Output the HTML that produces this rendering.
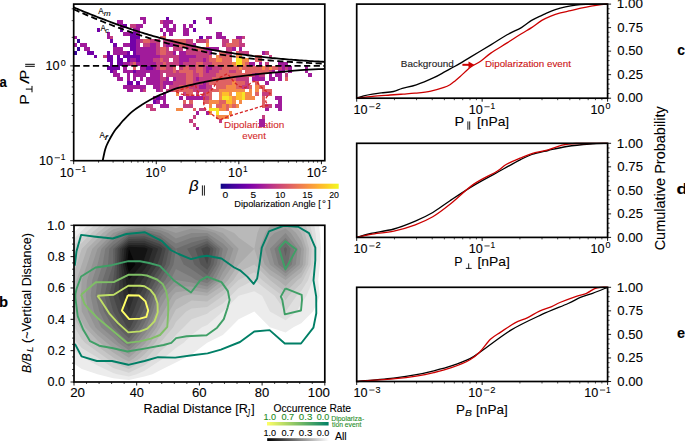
<!DOCTYPE html>
<html><head><meta charset="utf-8"><style>
html,body{margin:0;padding:0;background:#fff;overflow:hidden;}
svg{display:block;}
text{font-family:"Liberation Sans",sans-serif;}
</style></head><body>
<svg width="685" height="441" viewBox="0 0 685 441">
<defs><clipPath id="clipB"><rect x="74" y="225.3" width="250.8" height="156.7"/></clipPath><clipPath id="clipA"><rect x="73.7" y="4.1" width="251.1" height="156.6"/></clipPath></defs>
<rect width="685" height="441" fill="#fff"/>
<text x="224.09" y="127.6" font-size="9.6" fill="#d42a2a" stroke="#d42a2a" stroke-width="0.1" textLength="60.17" lengthAdjust="spacingAndGlyphs">Dipolarization</text>
<text x="242.3" y="139.3" font-size="9.6" fill="#d42a2a" stroke="#d42a2a" stroke-width="0.1" textLength="23.58" lengthAdjust="spacingAndGlyphs">event</text>
<g clip-path="url(#clipA)" shape-rendering="crispEdges">
<path d="M73.70 35.56h3.31v3.8h-3.31zM73.70 43.15h3.31v3.8h-3.31zM80.31 43.15h3.31v3.8h-3.31zM83.61 43.15h3.31v3.8h-3.31zM83.61 46.94h3.31v3.8h-3.31zM86.91 46.94h3.31v3.8h-3.31zM106.73 31.77h3.31v3.8h-3.31zM106.73 35.56h3.31v3.8h-3.31zM113.33 46.94h3.31v3.8h-3.31zM113.33 50.73h3.31v3.8h-3.31zM113.33 69.69h3.31v3.8h-3.31zM113.33 73.48h3.31v3.8h-3.31zM116.64 20.40h3.31v3.8h-3.31zM116.64 46.94h3.31v3.8h-3.31zM116.64 50.73h3.31v3.8h-3.31zM116.64 73.48h3.31v3.8h-3.31zM116.64 77.28h3.31v3.8h-3.31zM119.94 20.40h3.31v3.8h-3.31zM119.94 24.19h3.31v3.8h-3.31zM119.94 46.94h3.31v3.8h-3.31zM119.94 50.73h3.31v3.8h-3.31zM119.94 77.28h3.31v3.8h-3.31zM123.24 31.77h3.31v3.8h-3.31zM123.24 43.15h3.31v3.8h-3.31zM123.24 50.73h3.31v3.8h-3.31zM123.24 62.11h3.31v3.8h-3.31zM123.24 65.90h3.31v3.8h-3.31zM123.24 69.69h3.31v3.8h-3.31zM123.24 84.86h3.31v3.8h-3.31zM126.54 31.77h3.31v3.8h-3.31zM126.54 43.15h3.31v3.8h-3.31zM126.54 62.11h3.31v3.8h-3.31zM126.54 69.69h3.31v3.8h-3.31zM126.54 73.48h3.31v3.8h-3.31zM126.54 77.28h3.31v3.8h-3.31zM126.54 84.86h3.31v3.8h-3.31zM126.54 88.65h3.31v3.8h-3.31zM129.85 58.32h3.31v3.8h-3.31zM129.85 69.69h3.31v3.8h-3.31zM129.85 84.86h3.31v3.8h-3.31zM129.85 88.65h3.31v3.8h-3.31zM133.15 27.98h3.31v3.8h-3.31zM133.15 58.32h3.31v3.8h-3.31zM133.15 73.48h3.31v3.8h-3.31zM133.15 77.28h3.31v3.8h-3.31zM133.15 84.86h3.31v3.8h-3.31zM136.45 24.19h3.31v3.8h-3.31zM136.45 27.98h3.31v3.8h-3.31zM136.45 31.77h3.31v3.8h-3.31zM136.45 39.36h3.31v3.8h-3.31zM136.45 43.15h3.31v3.8h-3.31zM136.45 46.94h3.31v3.8h-3.31zM136.45 50.73h3.31v3.8h-3.31zM136.45 62.11h3.31v3.8h-3.31zM136.45 69.69h3.31v3.8h-3.31zM136.45 73.48h3.31v3.8h-3.31zM136.45 84.86h3.31v3.8h-3.31zM139.76 16.60h3.31v3.8h-3.31zM139.76 24.19h3.31v3.8h-3.31zM139.76 46.94h3.31v3.8h-3.31zM139.76 50.73h3.31v3.8h-3.31zM139.76 54.52h3.31v3.8h-3.31zM139.76 58.32h3.31v3.8h-3.31zM139.76 62.11h3.31v3.8h-3.31zM139.76 65.90h3.31v3.8h-3.31zM139.76 69.69h3.31v3.8h-3.31zM139.76 73.48h3.31v3.8h-3.31zM139.76 77.28h3.31v3.8h-3.31zM139.76 84.86h3.31v3.8h-3.31zM139.76 88.65h3.31v3.8h-3.31zM143.06 16.60h3.31v3.8h-3.31zM143.06 20.40h3.31v3.8h-3.31zM143.06 46.94h3.31v3.8h-3.31zM143.06 50.73h3.31v3.8h-3.31zM143.06 54.52h3.31v3.8h-3.31zM143.06 58.32h3.31v3.8h-3.31zM143.06 62.11h3.31v3.8h-3.31zM143.06 65.90h3.31v3.8h-3.31zM143.06 69.69h3.31v3.8h-3.31zM143.06 73.48h3.31v3.8h-3.31zM143.06 84.86h3.31v3.8h-3.31zM146.36 46.94h3.31v3.8h-3.31zM146.36 50.73h3.31v3.8h-3.31zM146.36 54.52h3.31v3.8h-3.31zM146.36 58.32h3.31v3.8h-3.31zM146.36 62.11h3.31v3.8h-3.31zM146.36 69.69h3.31v3.8h-3.31zM146.36 77.28h3.31v3.8h-3.31zM146.36 81.07h3.31v3.8h-3.31zM149.66 43.15h3.31v3.8h-3.31zM149.66 46.94h3.31v3.8h-3.31zM149.66 50.73h3.31v3.8h-3.31zM149.66 54.52h3.31v3.8h-3.31zM149.66 58.32h3.31v3.8h-3.31zM149.66 62.11h3.31v3.8h-3.31zM149.66 69.69h3.31v3.8h-3.31zM149.66 73.48h3.31v3.8h-3.31zM149.66 77.28h3.31v3.8h-3.31zM149.66 81.07h3.31v3.8h-3.31zM152.97 43.15h3.31v3.8h-3.31zM152.97 46.94h3.31v3.8h-3.31zM152.97 50.73h3.31v3.8h-3.31zM152.97 54.52h3.31v3.8h-3.31zM152.97 62.11h3.31v3.8h-3.31zM152.97 65.90h3.31v3.8h-3.31zM152.97 69.69h3.31v3.8h-3.31zM152.97 73.48h3.31v3.8h-3.31zM152.97 77.28h3.31v3.8h-3.31zM152.97 81.07h3.31v3.8h-3.31zM152.97 84.86h3.31v3.8h-3.31zM152.97 96.24h3.31v3.8h-3.31zM156.27 54.52h3.31v3.8h-3.31zM156.27 69.69h3.31v3.8h-3.31zM156.27 73.48h3.31v3.8h-3.31zM156.27 77.28h3.31v3.8h-3.31zM156.27 81.07h3.31v3.8h-3.31zM156.27 84.86h3.31v3.8h-3.31zM156.27 88.65h3.31v3.8h-3.31zM156.27 100.03h3.31v3.8h-3.31zM159.57 27.98h3.31v3.8h-3.31zM159.57 96.24h3.31v3.8h-3.31zM159.57 103.82h3.31v3.8h-3.31zM162.88 20.40h3.31v3.8h-3.31zM162.88 24.19h3.31v3.8h-3.31zM162.88 31.77h3.31v3.8h-3.31zM162.88 81.07h3.31v3.8h-3.31zM162.88 84.86h3.31v3.8h-3.31zM162.88 92.44h3.31v3.8h-3.31zM162.88 96.24h3.31v3.8h-3.31zM162.88 100.03h3.31v3.8h-3.31zM162.88 103.82h3.31v3.8h-3.31zM166.18 20.40h3.31v3.8h-3.31zM166.18 24.19h3.31v3.8h-3.31zM166.18 27.98h3.31v3.8h-3.31zM166.18 43.15h3.31v3.8h-3.31zM166.18 77.28h3.31v3.8h-3.31zM166.18 81.07h3.31v3.8h-3.31zM166.18 103.82h3.31v3.8h-3.31zM169.48 20.40h3.31v3.8h-3.31zM169.48 27.98h3.31v3.8h-3.31zM169.48 31.77h3.31v3.8h-3.31zM169.48 43.15h3.31v3.8h-3.31zM169.48 81.07h3.31v3.8h-3.31zM172.78 24.19h3.31v3.8h-3.31zM172.78 27.98h3.31v3.8h-3.31zM172.78 50.73h3.31v3.8h-3.31zM172.78 77.28h3.31v3.8h-3.31zM179.39 50.73h3.31v3.8h-3.31zM179.39 54.52h3.31v3.8h-3.31zM179.39 58.32h3.31v3.8h-3.31zM179.39 62.11h3.31v3.8h-3.31zM179.39 96.24h3.31v3.8h-3.31zM182.69 24.19h3.31v3.8h-3.31zM182.69 27.98h3.31v3.8h-3.31zM182.69 31.77h3.31v3.8h-3.31zM182.69 50.73h3.31v3.8h-3.31zM182.69 54.52h3.31v3.8h-3.31zM182.69 58.32h3.31v3.8h-3.31zM186.00 27.98h3.31v3.8h-3.31zM186.00 31.77h3.31v3.8h-3.31zM186.00 54.52h3.31v3.8h-3.31zM186.00 58.32h3.31v3.8h-3.31zM186.00 96.24h3.31v3.8h-3.31zM189.30 24.19h3.31v3.8h-3.31zM189.30 54.52h3.31v3.8h-3.31zM189.30 96.24h3.31v3.8h-3.31zM192.60 43.15h3.31v3.8h-3.31zM192.60 54.52h3.31v3.8h-3.31zM192.60 96.24h3.31v3.8h-3.31zM195.90 77.28h3.31v3.8h-3.31zM195.90 96.24h3.31v3.8h-3.31zM195.90 111.40h3.31v3.8h-3.31zM195.90 126.57h3.31v3.8h-3.31zM199.21 84.86h3.31v3.8h-3.31zM199.21 96.24h3.31v3.8h-3.31zM202.51 58.32h3.31v3.8h-3.31zM202.51 81.07h3.31v3.8h-3.31zM202.51 84.86h3.31v3.8h-3.31zM205.81 16.60h3.31v3.8h-3.31zM205.81 35.56h3.31v3.8h-3.31zM205.81 46.94h3.31v3.8h-3.31zM205.81 65.90h3.31v3.8h-3.31zM205.81 69.69h3.31v3.8h-3.31zM205.81 111.40h3.31v3.8h-3.31zM209.11 16.60h3.31v3.8h-3.31zM209.11 20.40h3.31v3.8h-3.31zM209.11 35.56h3.31v3.8h-3.31zM209.11 46.94h3.31v3.8h-3.31zM209.11 50.73h3.31v3.8h-3.31zM209.11 65.90h3.31v3.8h-3.31zM212.42 46.94h3.31v3.8h-3.31zM215.72 31.77h3.31v3.8h-3.31zM215.72 35.56h3.31v3.8h-3.31zM215.72 46.94h3.31v3.8h-3.31zM219.02 31.77h3.31v3.8h-3.31zM219.02 35.56h3.31v3.8h-3.31zM222.33 35.56h3.31v3.8h-3.31zM232.23 46.94h3.31v3.8h-3.31zM235.54 35.56h3.31v3.8h-3.31zM238.84 35.56h3.31v3.8h-3.31zM238.84 46.94h3.31v3.8h-3.31zM248.75 62.11h3.31v3.8h-3.31zM252.05 62.11h3.31v3.8h-3.31zM252.05 77.28h3.31v3.8h-3.31zM255.35 73.48h3.31v3.8h-3.31zM255.35 77.28h3.31v3.8h-3.31zM258.66 62.11h3.31v3.8h-3.31zM258.66 77.28h3.31v3.8h-3.31zM258.66 118.99h3.31v3.8h-3.31zM258.66 122.78h3.31v3.8h-3.31zM261.96 50.73h3.31v3.8h-3.31zM261.96 77.28h3.31v3.8h-3.31zM261.96 118.99h3.31v3.8h-3.31zM261.96 122.78h3.31v3.8h-3.31zM265.26 81.07h3.31v3.8h-3.31zM265.26 107.61h3.31v3.8h-3.31zM268.57 73.48h3.31v3.8h-3.31zM268.57 77.28h3.31v3.8h-3.31zM271.87 69.69h3.31v3.8h-3.31zM271.87 77.28h3.31v3.8h-3.31zM275.17 73.48h3.31v3.8h-3.31zM275.17 96.24h3.31v3.8h-3.31zM275.17 103.82h3.31v3.8h-3.31zM278.47 62.11h3.31v3.8h-3.31zM278.47 69.69h3.31v3.8h-3.31zM278.47 73.48h3.31v3.8h-3.31zM278.47 77.28h3.31v3.8h-3.31zM278.47 96.24h3.31v3.8h-3.31zM278.47 100.03h3.31v3.8h-3.31zM278.47 103.82h3.31v3.8h-3.31zM278.47 107.61h3.31v3.8h-3.31zM281.78 62.11h3.31v3.8h-3.31zM281.78 65.90h3.31v3.8h-3.31zM281.78 69.69h3.31v3.8h-3.31zM285.08 62.11h3.31v3.8h-3.31zM288.38 65.90h3.31v3.8h-3.31zM288.38 69.69h3.31v3.8h-3.31zM304.90 65.90h3.31v3.8h-3.31zM304.90 69.69h3.31v3.8h-3.31zM308.20 73.48h3.31v3.8h-3.31z" fill="#a11b9b"/>
<path d="M86.91 50.73h3.31v3.8h-3.31zM90.21 50.73h3.31v3.8h-3.31zM93.52 54.52h3.31v3.8h-3.31zM96.82 27.98h3.31v3.8h-3.31zM106.73 50.73h3.31v3.8h-3.31zM106.73 54.52h3.31v3.8h-3.31zM106.73 58.32h3.31v3.8h-3.31zM106.73 65.90h3.31v3.8h-3.31zM110.03 39.36h3.31v3.8h-3.31zM110.03 54.52h3.31v3.8h-3.31zM110.03 58.32h3.31v3.8h-3.31zM110.03 62.11h3.31v3.8h-3.31zM110.03 65.90h3.31v3.8h-3.31zM110.03 69.69h3.31v3.8h-3.31zM113.33 43.15h3.31v3.8h-3.31zM113.33 65.90h3.31v3.8h-3.31zM116.64 54.52h3.31v3.8h-3.31zM116.64 58.32h3.31v3.8h-3.31zM116.64 62.11h3.31v3.8h-3.31zM116.64 65.90h3.31v3.8h-3.31zM119.94 27.98h3.31v3.8h-3.31zM119.94 58.32h3.31v3.8h-3.31zM119.94 62.11h3.31v3.8h-3.31zM123.24 24.19h3.31v3.8h-3.31zM123.24 54.52h3.31v3.8h-3.31zM126.54 50.73h3.31v3.8h-3.31zM126.54 54.52h3.31v3.8h-3.31zM126.54 58.32h3.31v3.8h-3.31zM126.54 81.07h3.31v3.8h-3.31zM129.85 31.77h3.31v3.8h-3.31zM129.85 35.56h3.31v3.8h-3.31zM129.85 39.36h3.31v3.8h-3.31zM129.85 43.15h3.31v3.8h-3.31zM129.85 46.94h3.31v3.8h-3.31zM129.85 54.52h3.31v3.8h-3.31zM129.85 81.07h3.31v3.8h-3.31zM133.15 31.77h3.31v3.8h-3.31zM133.15 35.56h3.31v3.8h-3.31zM133.15 39.36h3.31v3.8h-3.31zM133.15 43.15h3.31v3.8h-3.31zM133.15 46.94h3.31v3.8h-3.31zM133.15 50.73h3.31v3.8h-3.31zM133.15 54.52h3.31v3.8h-3.31zM133.15 69.69h3.31v3.8h-3.31zM136.45 35.56h3.31v3.8h-3.31zM136.45 54.52h3.31v3.8h-3.31zM136.45 58.32h3.31v3.8h-3.31zM136.45 81.07h3.31v3.8h-3.31zM146.36 65.90h3.31v3.8h-3.31zM149.66 65.90h3.31v3.8h-3.31zM152.97 100.03h3.31v3.8h-3.31zM156.27 96.24h3.31v3.8h-3.31zM166.18 16.60h3.31v3.8h-3.31zM192.60 20.40h3.31v3.8h-3.31zM192.60 27.98h3.31v3.8h-3.31zM199.21 35.56h3.31v3.8h-3.31z" fill="#7201a8"/>
<path d="M103.43 54.52h3.31v3.8h-3.31zM110.03 35.56h3.31v3.8h-3.31zM129.85 24.19h3.31v3.8h-3.31zM129.85 62.11h3.31v3.8h-3.31zM133.15 24.19h3.31v3.8h-3.31zM139.76 39.36h3.31v3.8h-3.31zM143.06 43.15h3.31v3.8h-3.31zM143.06 88.65h3.31v3.8h-3.31zM146.36 43.15h3.31v3.8h-3.31zM146.36 103.82h3.31v3.8h-3.31zM149.66 39.36h3.31v3.8h-3.31zM149.66 103.82h3.31v3.8h-3.31zM149.66 107.61h3.31v3.8h-3.31zM152.97 39.36h3.31v3.8h-3.31zM152.97 58.32h3.31v3.8h-3.31zM152.97 107.61h3.31v3.8h-3.31zM156.27 39.36h3.31v3.8h-3.31zM156.27 43.15h3.31v3.8h-3.31zM156.27 46.94h3.31v3.8h-3.31zM156.27 50.73h3.31v3.8h-3.31zM156.27 58.32h3.31v3.8h-3.31zM156.27 62.11h3.31v3.8h-3.31zM156.27 65.90h3.31v3.8h-3.31zM159.57 20.40h3.31v3.8h-3.31zM159.57 54.52h3.31v3.8h-3.31zM159.57 62.11h3.31v3.8h-3.31zM159.57 69.69h3.31v3.8h-3.31zM159.57 73.48h3.31v3.8h-3.31zM159.57 77.28h3.31v3.8h-3.31zM159.57 81.07h3.31v3.8h-3.31zM159.57 84.86h3.31v3.8h-3.31zM159.57 88.65h3.31v3.8h-3.31zM162.88 39.36h3.31v3.8h-3.31zM162.88 43.15h3.31v3.8h-3.31zM162.88 54.52h3.31v3.8h-3.31zM162.88 58.32h3.31v3.8h-3.31zM162.88 69.69h3.31v3.8h-3.31zM162.88 77.28h3.31v3.8h-3.31zM166.18 39.36h3.31v3.8h-3.31zM166.18 46.94h3.31v3.8h-3.31zM166.18 50.73h3.31v3.8h-3.31zM166.18 54.52h3.31v3.8h-3.31zM166.18 58.32h3.31v3.8h-3.31zM166.18 62.11h3.31v3.8h-3.31zM166.18 65.90h3.31v3.8h-3.31zM166.18 69.69h3.31v3.8h-3.31zM166.18 73.48h3.31v3.8h-3.31zM166.18 88.65h3.31v3.8h-3.31zM169.48 39.36h3.31v3.8h-3.31zM169.48 50.73h3.31v3.8h-3.31zM169.48 54.52h3.31v3.8h-3.31zM169.48 62.11h3.31v3.8h-3.31zM169.48 65.90h3.31v3.8h-3.31zM169.48 69.69h3.31v3.8h-3.31zM169.48 73.48h3.31v3.8h-3.31zM169.48 84.86h3.31v3.8h-3.31zM169.48 88.65h3.31v3.8h-3.31zM172.78 43.15h3.31v3.8h-3.31zM172.78 46.94h3.31v3.8h-3.31zM172.78 54.52h3.31v3.8h-3.31zM172.78 58.32h3.31v3.8h-3.31zM172.78 62.11h3.31v3.8h-3.31zM172.78 73.48h3.31v3.8h-3.31zM172.78 81.07h3.31v3.8h-3.31zM172.78 84.86h3.31v3.8h-3.31zM176.09 43.15h3.31v3.8h-3.31zM176.09 46.94h3.31v3.8h-3.31zM176.09 54.52h3.31v3.8h-3.31zM176.09 58.32h3.31v3.8h-3.31zM176.09 62.11h3.31v3.8h-3.31zM176.09 69.69h3.31v3.8h-3.31zM176.09 73.48h3.31v3.8h-3.31zM176.09 77.28h3.31v3.8h-3.31zM176.09 81.07h3.31v3.8h-3.31zM176.09 84.86h3.31v3.8h-3.31zM179.39 46.94h3.31v3.8h-3.31zM179.39 65.90h3.31v3.8h-3.31zM179.39 73.48h3.31v3.8h-3.31zM179.39 77.28h3.31v3.8h-3.31zM179.39 81.07h3.31v3.8h-3.31zM182.69 62.11h3.31v3.8h-3.31zM182.69 73.48h3.31v3.8h-3.31zM182.69 77.28h3.31v3.8h-3.31zM182.69 81.07h3.31v3.8h-3.31zM182.69 92.44h3.31v3.8h-3.31zM182.69 103.82h3.31v3.8h-3.31zM186.00 39.36h3.31v3.8h-3.31zM186.00 43.15h3.31v3.8h-3.31zM186.00 46.94h3.31v3.8h-3.31zM186.00 50.73h3.31v3.8h-3.31zM186.00 62.11h3.31v3.8h-3.31zM186.00 103.82h3.31v3.8h-3.31zM189.30 39.36h3.31v3.8h-3.31zM189.30 43.15h3.31v3.8h-3.31zM189.30 46.94h3.31v3.8h-3.31zM189.30 50.73h3.31v3.8h-3.31zM189.30 58.32h3.31v3.8h-3.31zM189.30 62.11h3.31v3.8h-3.31zM189.30 65.90h3.31v3.8h-3.31zM189.30 84.86h3.31v3.8h-3.31zM189.30 103.82h3.31v3.8h-3.31zM189.30 118.99h3.31v3.8h-3.31zM192.60 46.94h3.31v3.8h-3.31zM192.60 50.73h3.31v3.8h-3.31zM192.60 58.32h3.31v3.8h-3.31zM192.60 62.11h3.31v3.8h-3.31zM192.60 65.90h3.31v3.8h-3.31zM192.60 69.69h3.31v3.8h-3.31zM192.60 73.48h3.31v3.8h-3.31zM192.60 77.28h3.31v3.8h-3.31zM192.60 81.07h3.31v3.8h-3.31zM192.60 84.86h3.31v3.8h-3.31zM192.60 88.65h3.31v3.8h-3.31zM192.60 115.20h3.31v3.8h-3.31zM192.60 122.78h3.31v3.8h-3.31zM195.90 39.36h3.31v3.8h-3.31zM195.90 50.73h3.31v3.8h-3.31zM195.90 54.52h3.31v3.8h-3.31zM195.90 58.32h3.31v3.8h-3.31zM195.90 73.48h3.31v3.8h-3.31zM195.90 81.07h3.31v3.8h-3.31zM195.90 84.86h3.31v3.8h-3.31zM195.90 88.65h3.31v3.8h-3.31zM195.90 92.44h3.31v3.8h-3.31zM199.21 39.36h3.31v3.8h-3.31zM199.21 50.73h3.31v3.8h-3.31zM199.21 54.52h3.31v3.8h-3.31zM199.21 58.32h3.31v3.8h-3.31zM199.21 77.28h3.31v3.8h-3.31zM199.21 81.07h3.31v3.8h-3.31zM199.21 88.65h3.31v3.8h-3.31zM199.21 107.61h3.31v3.8h-3.31zM202.51 39.36h3.31v3.8h-3.31zM202.51 46.94h3.31v3.8h-3.31zM202.51 50.73h3.31v3.8h-3.31zM202.51 54.52h3.31v3.8h-3.31zM202.51 62.11h3.31v3.8h-3.31zM202.51 65.90h3.31v3.8h-3.31zM202.51 69.69h3.31v3.8h-3.31zM202.51 73.48h3.31v3.8h-3.31zM202.51 77.28h3.31v3.8h-3.31zM202.51 88.65h3.31v3.8h-3.31zM202.51 92.44h3.31v3.8h-3.31zM202.51 96.24h3.31v3.8h-3.31zM202.51 107.61h3.31v3.8h-3.31zM205.81 50.73h3.31v3.8h-3.31zM205.81 54.52h3.31v3.8h-3.31zM205.81 58.32h3.31v3.8h-3.31zM205.81 62.11h3.31v3.8h-3.31zM205.81 73.48h3.31v3.8h-3.31zM205.81 77.28h3.31v3.8h-3.31zM205.81 81.07h3.31v3.8h-3.31zM205.81 84.86h3.31v3.8h-3.31zM205.81 88.65h3.31v3.8h-3.31zM205.81 96.24h3.31v3.8h-3.31zM209.11 62.11h3.31v3.8h-3.31zM209.11 69.69h3.31v3.8h-3.31zM209.11 73.48h3.31v3.8h-3.31zM209.11 77.28h3.31v3.8h-3.31zM209.11 84.86h3.31v3.8h-3.31zM212.42 65.90h3.31v3.8h-3.31zM212.42 69.69h3.31v3.8h-3.31zM212.42 73.48h3.31v3.8h-3.31zM215.72 65.90h3.31v3.8h-3.31zM215.72 69.69h3.31v3.8h-3.31zM219.02 65.90h3.31v3.8h-3.31zM219.02 118.99h3.31v3.8h-3.31zM222.33 39.36h3.31v3.8h-3.31zM222.33 43.15h3.31v3.8h-3.31zM225.63 39.36h3.31v3.8h-3.31zM225.63 46.94h3.31v3.8h-3.31zM225.63 50.73h3.31v3.8h-3.31zM228.93 46.94h3.31v3.8h-3.31zM228.93 50.73h3.31v3.8h-3.31zM228.93 69.69h3.31v3.8h-3.31zM232.23 69.69h3.31v3.8h-3.31zM235.54 77.28h3.31v3.8h-3.31zM238.84 39.36h3.31v3.8h-3.31zM238.84 43.15h3.31v3.8h-3.31zM238.84 50.73h3.31v3.8h-3.31zM238.84 77.28h3.31v3.8h-3.31zM242.14 35.56h3.31v3.8h-3.31zM242.14 43.15h3.31v3.8h-3.31zM242.14 50.73h3.31v3.8h-3.31zM242.14 77.28h3.31v3.8h-3.31zM242.14 84.86h3.31v3.8h-3.31zM245.45 50.73h3.31v3.8h-3.31zM245.45 77.28h3.31v3.8h-3.31zM245.45 81.07h3.31v3.8h-3.31zM245.45 84.86h3.31v3.8h-3.31zM252.05 73.48h3.31v3.8h-3.31zM258.66 73.48h3.31v3.8h-3.31zM261.96 73.48h3.31v3.8h-3.31zM261.96 92.44h3.31v3.8h-3.31zM261.96 115.20h3.31v3.8h-3.31zM265.26 50.73h3.31v3.8h-3.31zM265.26 62.11h3.31v3.8h-3.31zM265.26 92.44h3.31v3.8h-3.31zM265.26 103.82h3.31v3.8h-3.31zM268.57 54.52h3.31v3.8h-3.31zM268.57 69.69h3.31v3.8h-3.31zM268.57 103.82h3.31v3.8h-3.31zM278.47 65.90h3.31v3.8h-3.31zM285.08 65.90h3.31v3.8h-3.31zM285.08 73.48h3.31v3.8h-3.31z" fill="#c43e7f"/>
<path d="M73.70 50.73h3.31v3.8h-3.31zM77.00 39.36h3.31v3.8h-3.31zM77.00 46.94h3.31v3.8h-3.31z" fill="#38049a"/>
<path d="M133.15 62.11h3.31v3.8h-3.31zM133.15 65.90h3.31v3.8h-3.31zM143.06 39.36h3.31v3.8h-3.31zM146.36 39.36h3.31v3.8h-3.31zM159.57 35.56h3.31v3.8h-3.31zM159.57 46.94h3.31v3.8h-3.31zM159.57 50.73h3.31v3.8h-3.31zM159.57 58.32h3.31v3.8h-3.31zM159.57 65.90h3.31v3.8h-3.31zM162.88 35.56h3.31v3.8h-3.31zM162.88 46.94h3.31v3.8h-3.31zM162.88 50.73h3.31v3.8h-3.31zM162.88 62.11h3.31v3.8h-3.31zM162.88 65.90h3.31v3.8h-3.31zM172.78 39.36h3.31v3.8h-3.31zM172.78 65.90h3.31v3.8h-3.31zM172.78 69.69h3.31v3.8h-3.31zM172.78 88.65h3.31v3.8h-3.31zM176.09 39.36h3.31v3.8h-3.31zM176.09 88.65h3.31v3.8h-3.31zM179.39 39.36h3.31v3.8h-3.31zM179.39 43.15h3.31v3.8h-3.31zM179.39 69.69h3.31v3.8h-3.31zM179.39 84.86h3.31v3.8h-3.31zM179.39 88.65h3.31v3.8h-3.31zM182.69 39.36h3.31v3.8h-3.31zM182.69 43.15h3.31v3.8h-3.31zM182.69 65.90h3.31v3.8h-3.31zM182.69 69.69h3.31v3.8h-3.31zM182.69 84.86h3.31v3.8h-3.31zM182.69 88.65h3.31v3.8h-3.31zM182.69 100.03h3.31v3.8h-3.31zM186.00 65.90h3.31v3.8h-3.31zM186.00 69.69h3.31v3.8h-3.31zM186.00 73.48h3.31v3.8h-3.31zM186.00 77.28h3.31v3.8h-3.31zM186.00 81.07h3.31v3.8h-3.31zM186.00 84.86h3.31v3.8h-3.31zM186.00 88.65h3.31v3.8h-3.31zM186.00 92.44h3.31v3.8h-3.31zM189.30 69.69h3.31v3.8h-3.31zM189.30 73.48h3.31v3.8h-3.31zM189.30 77.28h3.31v3.8h-3.31zM189.30 81.07h3.31v3.8h-3.31zM189.30 88.65h3.31v3.8h-3.31zM189.30 92.44h3.31v3.8h-3.31zM189.30 100.03h3.31v3.8h-3.31zM192.60 107.61h3.31v3.8h-3.31zM195.90 46.94h3.31v3.8h-3.31zM195.90 62.11h3.31v3.8h-3.31zM195.90 65.90h3.31v3.8h-3.31zM195.90 69.69h3.31v3.8h-3.31zM199.21 46.94h3.31v3.8h-3.31zM199.21 62.11h3.31v3.8h-3.31zM199.21 65.90h3.31v3.8h-3.31zM199.21 69.69h3.31v3.8h-3.31zM199.21 73.48h3.31v3.8h-3.31zM202.51 100.03h3.31v3.8h-3.31zM205.81 39.36h3.31v3.8h-3.31zM205.81 92.44h3.31v3.8h-3.31zM205.81 100.03h3.31v3.8h-3.31zM209.11 54.52h3.31v3.8h-3.31zM209.11 58.32h3.31v3.8h-3.31zM209.11 81.07h3.31v3.8h-3.31zM209.11 88.65h3.31v3.8h-3.31zM209.11 92.44h3.31v3.8h-3.31zM209.11 96.24h3.31v3.8h-3.31zM212.42 58.32h3.31v3.8h-3.31zM212.42 62.11h3.31v3.8h-3.31zM212.42 77.28h3.31v3.8h-3.31zM212.42 81.07h3.31v3.8h-3.31zM212.42 88.65h3.31v3.8h-3.31zM215.72 62.11h3.31v3.8h-3.31zM215.72 73.48h3.31v3.8h-3.31zM215.72 77.28h3.31v3.8h-3.31zM215.72 81.07h3.31v3.8h-3.31zM215.72 84.86h3.31v3.8h-3.31zM215.72 88.65h3.31v3.8h-3.31zM215.72 103.82h3.31v3.8h-3.31zM219.02 50.73h3.31v3.8h-3.31zM219.02 54.52h3.31v3.8h-3.31zM219.02 62.11h3.31v3.8h-3.31zM219.02 69.69h3.31v3.8h-3.31zM219.02 73.48h3.31v3.8h-3.31zM219.02 77.28h3.31v3.8h-3.31zM219.02 81.07h3.31v3.8h-3.31zM219.02 84.86h3.31v3.8h-3.31zM219.02 100.03h3.31v3.8h-3.31zM219.02 103.82h3.31v3.8h-3.31zM222.33 50.73h3.31v3.8h-3.31zM222.33 54.52h3.31v3.8h-3.31zM222.33 58.32h3.31v3.8h-3.31zM222.33 62.11h3.31v3.8h-3.31zM222.33 65.90h3.31v3.8h-3.31zM222.33 69.69h3.31v3.8h-3.31zM222.33 73.48h3.31v3.8h-3.31zM222.33 77.28h3.31v3.8h-3.31zM222.33 81.07h3.31v3.8h-3.31zM222.33 84.86h3.31v3.8h-3.31zM222.33 100.03h3.31v3.8h-3.31zM225.63 43.15h3.31v3.8h-3.31zM225.63 54.52h3.31v3.8h-3.31zM225.63 58.32h3.31v3.8h-3.31zM225.63 62.11h3.31v3.8h-3.31zM225.63 65.90h3.31v3.8h-3.31zM225.63 69.69h3.31v3.8h-3.31zM225.63 73.48h3.31v3.8h-3.31zM225.63 77.28h3.31v3.8h-3.31zM225.63 81.07h3.31v3.8h-3.31zM225.63 103.82h3.31v3.8h-3.31zM225.63 107.61h3.31v3.8h-3.31zM228.93 43.15h3.31v3.8h-3.31zM228.93 54.52h3.31v3.8h-3.31zM228.93 58.32h3.31v3.8h-3.31zM228.93 62.11h3.31v3.8h-3.31zM228.93 65.90h3.31v3.8h-3.31zM228.93 73.48h3.31v3.8h-3.31zM228.93 77.28h3.31v3.8h-3.31zM228.93 81.07h3.31v3.8h-3.31zM232.23 39.36h3.31v3.8h-3.31zM232.23 43.15h3.31v3.8h-3.31zM232.23 65.90h3.31v3.8h-3.31zM232.23 73.48h3.31v3.8h-3.31zM232.23 77.28h3.31v3.8h-3.31zM232.23 103.82h3.31v3.8h-3.31zM235.54 39.36h3.31v3.8h-3.31zM235.54 43.15h3.31v3.8h-3.31zM235.54 50.73h3.31v3.8h-3.31zM235.54 65.90h3.31v3.8h-3.31zM235.54 69.69h3.31v3.8h-3.31zM235.54 73.48h3.31v3.8h-3.31zM235.54 81.07h3.31v3.8h-3.31zM235.54 84.86h3.31v3.8h-3.31zM238.84 69.69h3.31v3.8h-3.31zM238.84 73.48h3.31v3.8h-3.31zM238.84 81.07h3.31v3.8h-3.31zM238.84 84.86h3.31v3.8h-3.31zM242.14 65.90h3.31v3.8h-3.31zM242.14 73.48h3.31v3.8h-3.31zM242.14 81.07h3.31v3.8h-3.31zM245.45 62.11h3.31v3.8h-3.31zM245.45 65.90h3.31v3.8h-3.31zM245.45 69.69h3.31v3.8h-3.31zM245.45 73.48h3.31v3.8h-3.31zM248.75 65.90h3.31v3.8h-3.31zM248.75 69.69h3.31v3.8h-3.31zM248.75 73.48h3.31v3.8h-3.31zM248.75 84.86h3.31v3.8h-3.31zM252.05 65.90h3.31v3.8h-3.31zM252.05 69.69h3.31v3.8h-3.31zM255.35 54.52h3.31v3.8h-3.31zM255.35 58.32h3.31v3.8h-3.31zM255.35 65.90h3.31v3.8h-3.31zM255.35 69.69h3.31v3.8h-3.31zM255.35 81.07h3.31v3.8h-3.31zM255.35 92.44h3.31v3.8h-3.31zM258.66 54.52h3.31v3.8h-3.31zM258.66 58.32h3.31v3.8h-3.31zM258.66 65.90h3.31v3.8h-3.31zM258.66 69.69h3.31v3.8h-3.31zM258.66 84.86h3.31v3.8h-3.31zM261.96 69.69h3.31v3.8h-3.31zM261.96 84.86h3.31v3.8h-3.31zM261.96 88.65h3.31v3.8h-3.31zM261.96 96.24h3.31v3.8h-3.31zM261.96 100.03h3.31v3.8h-3.31zM261.96 103.82h3.31v3.8h-3.31zM265.26 65.90h3.31v3.8h-3.31zM265.26 69.69h3.31v3.8h-3.31zM265.26 88.65h3.31v3.8h-3.31zM268.57 88.65h3.31v3.8h-3.31zM268.57 92.44h3.31v3.8h-3.31zM271.87 65.90h3.31v3.8h-3.31zM275.17 65.90h3.31v3.8h-3.31zM285.08 77.28h3.31v3.8h-3.31z" fill="#df6263"/>
<path d="M176.09 92.44h3.31v3.8h-3.31zM176.09 107.61h3.31v3.8h-3.31zM179.39 107.61h3.31v3.8h-3.31zM205.81 43.15h3.31v3.8h-3.31zM209.11 100.03h3.31v3.8h-3.31zM209.11 103.82h3.31v3.8h-3.31zM209.11 111.40h3.31v3.8h-3.31zM212.42 100.03h3.31v3.8h-3.31zM215.72 54.52h3.31v3.8h-3.31zM215.72 58.32h3.31v3.8h-3.31zM215.72 100.03h3.31v3.8h-3.31zM215.72 115.20h3.31v3.8h-3.31zM219.02 58.32h3.31v3.8h-3.31zM219.02 88.65h3.31v3.8h-3.31zM219.02 92.44h3.31v3.8h-3.31zM219.02 96.24h3.31v3.8h-3.31zM219.02 107.61h3.31v3.8h-3.31zM219.02 115.20h3.31v3.8h-3.31zM222.33 88.65h3.31v3.8h-3.31zM222.33 103.82h3.31v3.8h-3.31zM222.33 107.61h3.31v3.8h-3.31zM222.33 115.20h3.31v3.8h-3.31zM225.63 84.86h3.31v3.8h-3.31zM225.63 88.65h3.31v3.8h-3.31zM225.63 115.20h3.31v3.8h-3.31zM228.93 84.86h3.31v3.8h-3.31zM228.93 88.65h3.31v3.8h-3.31zM228.93 92.44h3.31v3.8h-3.31zM228.93 103.82h3.31v3.8h-3.31zM228.93 111.40h3.31v3.8h-3.31zM232.23 62.11h3.31v3.8h-3.31zM232.23 81.07h3.31v3.8h-3.31zM232.23 84.86h3.31v3.8h-3.31zM232.23 88.65h3.31v3.8h-3.31zM232.23 96.24h3.31v3.8h-3.31zM232.23 100.03h3.31v3.8h-3.31zM235.54 54.52h3.31v3.8h-3.31zM235.54 88.65h3.31v3.8h-3.31zM235.54 103.82h3.31v3.8h-3.31zM238.84 54.52h3.31v3.8h-3.31zM238.84 65.90h3.31v3.8h-3.31zM238.84 88.65h3.31v3.8h-3.31zM238.84 100.03h3.31v3.8h-3.31zM242.14 58.32h3.31v3.8h-3.31zM242.14 62.11h3.31v3.8h-3.31zM242.14 88.65h3.31v3.8h-3.31zM245.45 58.32h3.31v3.8h-3.31zM245.45 92.44h3.31v3.8h-3.31zM245.45 96.24h3.31v3.8h-3.31zM248.75 88.65h3.31v3.8h-3.31zM248.75 92.44h3.31v3.8h-3.31zM248.75 96.24h3.31v3.8h-3.31zM252.05 96.24h3.31v3.8h-3.31zM255.35 84.86h3.31v3.8h-3.31zM255.35 88.65h3.31v3.8h-3.31zM261.96 65.90h3.31v3.8h-3.31zM268.57 65.90h3.31v3.8h-3.31z" fill="#f58b47"/>
<path d="M222.33 92.44h3.31v3.8h-3.31zM225.63 92.44h3.31v3.8h-3.31zM225.63 100.03h3.31v3.8h-3.31zM228.93 96.24h3.31v3.8h-3.31zM228.93 100.03h3.31v3.8h-3.31zM235.54 92.44h3.31v3.8h-3.31zM235.54 96.24h3.31v3.8h-3.31zM238.84 92.44h3.31v3.8h-3.31zM238.84 96.24h3.31v3.8h-3.31z" fill="#febe2a"/>
<path d="M209.11 107.61h3.31v3.8h-3.31zM212.42 107.61h3.31v3.8h-3.31zM215.72 107.61h3.31v3.8h-3.31zM215.72 111.40h3.31v3.8h-3.31zM222.33 96.24h3.31v3.8h-3.31zM225.63 96.24h3.31v3.8h-3.31zM235.54 58.32h3.31v3.8h-3.31zM235.54 62.11h3.31v3.8h-3.31zM238.84 58.32h3.31v3.8h-3.31zM238.84 62.11h3.31v3.8h-3.31zM242.14 92.44h3.31v3.8h-3.31zM242.14 96.24h3.31v3.8h-3.31z" fill="#f7e425"/>
</g>
<path d="M175.7 91.5 L182.7 89 L192.9 85.8 L195.4 85.2 L197.3 90.9 L200.5 94.1 L204.3 96 L203.7 103.6 L205 108.7 L209.4 112.5 L214.5 116.3 L220 120.1 L223.8 118.2 L232.7 115 L242.9 111.9 L251.8 109.3 L262 106.1 L267.7 105.5 L265.8 101.7 L266.4 97.2 L270.2 93.4 L264.5 90.2 L260.7 86.4 L256.9 82 L253.7 81.3 L250.5 83.3 L245.4 87.7 L239.1 86.4 L234 82 L227.6 73.7 L220 77.5 L216.4 82 L213.2 88.3 L208.1 92.8 L199.2 95.3 L190.3 95.3 L181.4 94.1 L175.7 91.5" fill="none" stroke="#d62728" stroke-width="1.4" stroke-linejoin="round" stroke-linecap="butt" stroke-dasharray="3.2 2"/>
<defs><linearGradient id="gplasma" x1="0" x2="1" y1="0" y2="0"><stop offset="0.000" stop-color="#0d0887"/><stop offset="0.050" stop-color="#2a0593"/><stop offset="0.100" stop-color="#41049d"/><stop offset="0.150" stop-color="#5601a4"/><stop offset="0.200" stop-color="#6a00a8"/><stop offset="0.250" stop-color="#7e03a8"/><stop offset="0.300" stop-color="#8f0da4"/><stop offset="0.350" stop-color="#a11b9b"/><stop offset="0.400" stop-color="#b12a90"/><stop offset="0.450" stop-color="#bf3984"/><stop offset="0.500" stop-color="#cc4778"/><stop offset="0.550" stop-color="#d6556d"/><stop offset="0.600" stop-color="#e16462"/><stop offset="0.650" stop-color="#ea7457"/><stop offset="0.700" stop-color="#f2844b"/><stop offset="0.750" stop-color="#f89540"/><stop offset="0.800" stop-color="#fca636"/><stop offset="0.850" stop-color="#feba2c"/><stop offset="0.900" stop-color="#fcce25"/><stop offset="0.950" stop-color="#f7e425"/><stop offset="1.000" stop-color="#f0f921"/></linearGradient></defs>
<rect x="220.7" y="183.7" width="118" height="5.1" fill="url(#gplasma)"/>
<text x="222.4" y="198.4" font-size="8.4" fill="#000" stroke="#000" stroke-width="0.1" textLength="5.7" lengthAdjust="spacingAndGlyphs">0</text>
<text x="250.49" y="198.4" font-size="8.4" fill="#000" stroke="#000" stroke-width="0.1" textLength="5.63" lengthAdjust="spacingAndGlyphs">5</text>
<text x="275.21" y="198.4" font-size="8.4" fill="#000" stroke="#000" stroke-width="0.1" textLength="10.15" lengthAdjust="spacingAndGlyphs">10</text>
<text x="302.3" y="198.4" font-size="8.4" fill="#000" stroke="#000" stroke-width="0.1" textLength="10.3" lengthAdjust="spacingAndGlyphs">15</text>
<text x="329.16" y="198.4" font-size="8.4" fill="#000" stroke="#000" stroke-width="0.1" textLength="9.79" lengthAdjust="spacingAndGlyphs">20</text>
<text x="234.35" y="206.6" font-size="8.4" fill="#000" stroke="#000" stroke-width="0.1" textLength="81.36" lengthAdjust="spacingAndGlyphs">Dipolarization Angle</text>
<text x="318.26" y="206.6" font-size="8.4" fill="#000" stroke="#000" stroke-width="0.1" textLength="2.51" lengthAdjust="spacingAndGlyphs">[</text>
<text x="322.1" y="206.6" font-size="8.4" fill="#000" stroke="#000" stroke-width="0.1" textLength="4" lengthAdjust="spacingAndGlyphs">°</text>
<text x="327.72" y="206.6" font-size="8.4" fill="#000" stroke="#000" stroke-width="0.1" textLength="2.93" lengthAdjust="spacingAndGlyphs">]</text>
<g clip-path="url(#clipB)">
<rect x="74.0" y="225.3" width="250.8" height="156.7" fill="#fff"/>
<path d="M113.2 378.3L128.9 380.1L144.5 376.4L152.4 374.2L160.2 370.2L175.9 362.4L183.7 358.5L191.6 354.6L207.2 342.8L207.2 342.8L222.9 335.0L230.8 327.2L238.6 319.3L254.3 311.5L254.3 311.5L254.3 311.5L269.9 327.2L269.9 327.2L285.6 332.4L293.4 327.2L301.3 323.2L313.0 311.5L317.0 303.6L319.6 295.8L318.3 280.1L319.9 264.5L320.9 248.8L319.9 233.1L319.2 225.3L317.0 225.3L301.3 225.3L285.6 225.3L269.9 225.3L254.3 225.3L238.6 225.3L222.9 225.3L207.2 225.3L191.6 225.3L175.9 225.3L160.2 225.3L144.5 225.3L128.9 225.3L113.2 225.3L97.5 225.3L81.8 225.3L81.1 225.3L74.0 232.4L74.0 233.1L74.0 248.8L74.0 264.5L74.0 280.1L74.0 295.8L74.0 311.5L74.0 327.2L74.0 342.8L74.0 358.5L74.0 363.7L81.8 368.9L97.5 374.2L97.5 374.2Z" fill="rgb(236,236,236)" fill-rule="evenodd"/>
<path d="M128.9 376.4L136.7 374.2L144.5 370.8L160.2 360.5L163.3 358.5L175.9 348.0L183.7 342.8L191.6 335.0L202.0 327.2L207.2 324.9L222.9 311.5L222.9 311.5L238.6 295.8L238.6 295.8L254.3 291.3L262.1 295.8L269.9 311.5L269.9 311.5L285.6 320.2L296.8 311.5L301.3 303.6L306.5 295.8L313.0 280.1L315.9 264.5L317.0 248.8L315.5 233.1L314.3 225.3L301.3 225.3L285.6 225.3L269.9 225.3L254.3 225.3L238.6 225.3L222.9 225.3L207.2 225.3L191.6 225.3L175.9 225.3L160.2 225.3L144.5 225.3L128.9 225.3L113.2 225.3L97.5 225.3L87.7 225.3L81.8 230.7L79.4 233.1L74.0 239.0L74.0 248.8L74.0 264.5L74.0 280.1L74.0 295.8L74.0 311.5L74.0 327.2L74.0 342.8L74.0 350.1L81.8 356.8L85.0 358.5L97.5 365.5L113.2 373.1L117.1 374.2Z" fill="rgb(223,223,223)" fill-rule="evenodd"/>
<path d="M113.2 367.9L128.9 372.7L144.5 365.2L153.9 358.5L160.2 351.5L170.0 342.8L175.9 335.0L183.7 327.2L191.6 319.3L207.2 313.7L209.8 311.5L222.9 303.6L230.8 295.8L238.6 288.0L254.3 280.1L254.3 280.1L254.3 280.1L269.9 292.2L274.6 295.8L285.6 311.5L296.6 295.8L301.3 291.1L308.1 280.1L313.3 264.5L314.3 248.8L312.0 233.1L310.0 225.3L301.3 225.3L285.6 225.3L269.9 225.3L254.3 225.3L238.6 225.3L222.9 225.3L207.2 225.3L191.6 225.3L175.9 225.3L160.2 225.3L144.5 225.3L128.9 225.3L113.2 225.3L97.5 225.3L94.2 225.3L85.5 233.1L81.8 236.8L74.0 245.5L74.0 248.8L74.0 264.5L74.0 280.1L74.0 295.8L74.0 311.5L74.0 327.2L74.0 338.0L77.1 342.8L81.8 348.0L97.5 357.4L99.1 358.5Z" fill="rgb(210,210,210)" fill-rule="evenodd"/>
<path d="M113.2 362.7L128.9 368.9L144.5 359.6L146.1 358.5L160.2 342.8L160.2 342.8L173.3 327.2L175.9 321.9L186.3 311.5L191.6 308.4L207.2 307.0L222.9 295.8L222.9 295.8L238.6 280.1L238.6 280.1L254.3 272.3L262.1 280.1L269.9 286.2L282.5 295.8L285.6 300.3L288.7 295.8L301.3 283.3L303.2 280.1L310.7 264.5L311.7 248.8L308.4 233.1L305.6 225.3L301.3 225.3L285.6 225.3L269.9 225.3L254.3 225.3L238.6 225.3L222.9 225.3L207.2 225.3L191.6 225.3L175.9 225.3L160.2 225.3L144.5 225.3L128.9 225.3L113.2 225.3L100.6 225.3L97.5 227.9L91.5 233.1L81.8 242.8L76.6 248.8L74.0 256.6L74.0 264.5L74.0 280.1L74.0 295.8L74.0 311.5L74.0 326.3L74.5 327.2L81.8 339.3L85.0 342.8L97.5 351.8L106.9 358.5Z" fill="rgb(198,198,198)" fill-rule="evenodd"/>
<path d="M128.9 365.2L139.7 358.5L144.5 354.3L155.3 342.8L160.2 335.0L166.7 327.2L174.8 311.5L175.9 309.5L191.6 300.5L207.2 301.4L215.1 295.8L222.9 290.6L233.4 280.1L238.6 272.3L254.3 264.5L254.3 264.5L254.3 264.5L269.9 280.1L269.9 280.1L285.6 292.2L297.7 280.1L301.3 277.2L308.1 264.5L309.1 248.8L304.8 233.1L301.3 225.3L301.3 225.3L285.6 225.3L269.9 225.3L254.3 225.3L241.7 225.3L238.6 226.4L236.0 225.3L222.9 225.3L207.2 225.3L191.6 225.3L175.9 225.3L160.2 225.3L144.5 225.3L128.9 225.3L113.2 225.3L106.9 225.3L97.5 233.1L97.5 233.1L81.8 248.8L81.8 248.8L76.6 264.5L74.0 272.3L74.0 280.1L74.0 295.8L74.0 311.5L74.0 317.6L79.7 327.2L81.8 330.6L92.8 342.8L97.5 346.2L113.2 357.5L114.8 358.5Z" fill="rgb(185,185,185)" fill-rule="evenodd"/>
<path d="M128.9 361.5L133.7 358.5L144.5 349.1L150.4 342.8L160.2 327.2L160.2 327.2L169.2 311.5L175.9 299.7L183.7 295.8L191.6 294.2L207.2 295.8L222.9 285.4L228.1 280.1L238.6 264.5L238.6 264.5L254.3 248.8L238.6 237.6L234.1 233.1L222.9 227.9L207.2 225.3L207.2 225.3L191.6 225.3L175.9 225.3L160.2 225.3L144.5 225.3L128.9 225.3L113.2 225.3L113.2 225.3L102.7 233.1L97.5 238.4L87.1 248.8L81.8 264.5L81.8 264.5L76.6 280.1L76.0 295.8L75.8 311.5L81.8 321.3L85.0 327.2L97.5 340.6L100.1 342.8L113.2 352.6L122.6 358.5ZM285.6 286.2L291.6 280.1L301.3 272.3L305.5 264.5L306.5 248.8L301.3 233.1L301.3 233.1L294.5 225.3L285.6 225.3L269.9 225.3L260.5 225.3L257.4 233.1L254.3 248.8L259.5 264.5L269.9 274.9L277.8 280.1Z" fill="rgb(172,172,172)" fill-rule="evenodd"/>
<path d="M113.2 347.7L128.9 357.7L144.5 343.9L145.5 342.8L156.6 327.2L160.2 317.4L163.6 311.5L172.5 295.8L175.9 292.2L191.6 290.3L207.2 292.7L222.9 280.1L222.9 280.1L233.4 264.5L238.6 248.8L222.9 233.1L222.9 233.1L207.2 227.9L195.2 225.3L191.6 225.3L185.7 225.3L175.9 227.9L164.7 225.3L160.2 225.3L144.5 225.3L128.9 225.3L128.9 225.3L113.2 229.2L108.0 233.1L97.5 243.6L92.3 248.8L87.1 264.5L81.8 280.1L81.8 280.1L80.9 295.8L81.8 311.5L81.8 311.5L90.2 327.2L97.5 335.0L106.7 342.8ZM269.9 269.7L285.6 280.1L301.3 267.4L302.9 264.5L303.9 248.8L301.3 241.0L296.1 233.1L287.7 225.3L285.6 225.3L273.9 225.3L269.9 226.4L265.2 233.1L259.5 248.8L264.7 264.5Z" fill="rgb(159,159,159)" fill-rule="evenodd"/>
<path d="M128.9 354.0L141.2 342.8L144.5 338.9L153.1 327.2L159.0 311.5L160.2 307.6L166.9 295.8L175.9 286.2L191.6 286.4L207.2 289.5L219.0 280.1L222.9 272.3L228.1 264.5L233.4 248.8L222.9 238.4L215.1 233.1L207.2 230.5L191.6 228.5L175.9 233.1L175.9 233.1L175.9 233.1L160.2 227.5L146.3 225.3L144.5 225.3L143.1 225.3L128.9 227.3L113.2 233.1L113.2 233.1L97.5 248.8L97.5 248.8L92.3 264.5L87.1 280.1L85.8 295.8L87.9 311.5L95.4 327.2L97.5 329.4L113.2 342.8L113.2 342.8ZM285.6 276.7L299.7 264.5L301.3 248.8L290.8 233.1L285.6 228.5L274.4 233.1L269.9 237.6L264.7 248.8L269.9 264.5L269.9 264.5Z" fill="rgb(147,147,147)" fill-rule="evenodd"/>
<path d="M128.9 350.3L137.1 342.8L144.5 334.0L149.5 327.2L155.8 311.5L160.2 297.8L161.3 295.8L175.9 280.1L175.9 280.1L175.9 280.1L191.6 282.5L207.2 286.4L215.1 280.1L222.9 264.5L222.9 264.5L228.1 248.8L222.9 243.6L207.2 233.1L191.6 233.1L175.9 238.4L168.1 233.1L160.2 230.3L144.5 227.3L128.9 229.2L118.4 233.1L113.2 237.1L101.4 248.8L97.5 264.5L97.5 264.5L92.3 280.1L90.7 295.8L93.9 311.5L97.5 319.3L101.1 327.2L113.2 337.6L118.4 342.8ZM285.6 273.3L295.8 264.5L297.7 248.8L285.6 233.1L269.9 248.8L274.3 264.5Z" fill="rgb(134,134,134)" fill-rule="evenodd"/>
<path d="M128.9 346.6L133.0 342.8L144.5 329.1L146.0 327.2L152.7 311.5L157.6 295.8L160.2 291.3L170.7 280.1L175.9 269.0L191.6 277.0L196.0 280.1L207.2 283.3L211.2 280.1L219.8 264.5L222.9 248.8L207.2 235.7L191.6 237.7L175.9 243.6L160.2 233.1L160.2 233.1L144.5 229.6L128.9 231.2L123.6 233.1L113.2 241.0L105.3 248.8L102.7 264.5L97.5 280.1L97.5 280.1L95.6 295.8L97.5 303.6L99.4 311.5L107.2 327.2L113.2 332.4L123.6 342.8ZM285.6 269.9L291.9 264.5L294.2 248.8L285.6 237.7L274.5 248.8L278.6 264.5Z" fill="rgb(121,121,121)" fill-rule="evenodd"/>
<path d="M128.9 342.8L142.2 327.2L144.5 322.9L149.6 311.5L154.3 295.8L160.2 285.7L165.4 280.1L173.5 264.5L175.9 248.8L160.2 235.9L150.4 233.1L144.5 231.8L128.9 233.1L128.9 233.1L113.2 244.9L109.3 248.8L108.0 264.5L102.7 280.1L100.1 295.8L104.0 311.5L113.2 327.2L113.2 327.2ZM191.6 269.2L207.2 280.1L216.6 264.5L219.8 248.8L207.2 238.4L191.6 242.4L175.9 248.8L183.7 264.5ZM285.6 266.5L288.0 264.5L290.6 248.8L285.6 242.4L279.2 248.8L283.0 264.5Z" fill="rgb(108,108,108)" fill-rule="evenodd"/>
<path d="M128.9 338.2L138.3 327.2L144.5 315.8L146.4 311.5L151.1 295.8L160.2 280.1L160.2 280.1L169.6 264.5L172.5 248.8L160.2 238.7L144.5 234.0L128.9 235.1L113.2 248.8L113.2 264.5L113.2 264.5L108.0 280.1L104.5 295.8L108.6 311.5L113.2 319.3L117.8 327.2ZM207.2 274.9L213.5 264.5L216.6 248.8L207.2 241.0L191.6 247.0L187.1 248.8L191.6 256.6L194.2 264.5ZM285.6 256.6L287.0 248.8L285.6 247.0L283.8 248.8Z" fill="rgb(96,96,96)" fill-rule="evenodd"/>
<path d="M128.9 333.6L134.3 327.2L142.7 311.5L144.5 307.0L147.8 295.8L155.9 280.1L160.2 273.6L165.7 264.5L169.1 248.8L160.2 241.5L144.5 236.3L128.9 237.1L115.4 248.8L115.1 264.5L113.2 280.1L113.2 280.1L108.8 295.8L113.2 311.5L113.2 311.5L122.4 327.2ZM207.2 269.7L210.4 264.5L213.5 248.8L207.2 243.6L195.2 248.8L200.7 264.5Z" fill="rgb(83,83,83)" fill-rule="evenodd"/>
<path d="M128.9 329.0L130.4 327.2L138.1 311.5L144.5 295.8L144.5 295.8L151.5 280.1L160.2 267.1L161.8 264.5L165.7 248.8L160.2 244.3L144.5 238.5L128.9 239.0L117.7 248.8L117.1 264.5L116.3 280.1L113.2 295.8L118.4 311.5L127.0 327.2ZM207.2 264.5L210.4 248.8L207.2 246.2L201.2 248.8Z" fill="rgb(70,70,70)" fill-rule="evenodd"/>
<path d="M128.9 321.3L133.5 311.5L139.3 295.8L144.5 286.0L147.2 280.1L157.3 264.5L160.2 256.6L162.3 248.8L160.2 247.1L144.5 240.7L128.9 241.0L119.9 248.8L119.1 264.5L119.5 280.1L118.4 295.8L123.6 311.5Z" fill="rgb(57,57,57)" fill-rule="evenodd"/>
<path d="M128.9 311.5L134.1 295.8L141.9 280.1L144.5 277.0L152.4 264.5L158.1 248.8L144.5 243.0L128.9 242.9L122.1 248.8L121.0 264.5L122.6 280.1L123.6 295.8Z" fill="rgb(45,45,45)" fill-rule="evenodd"/>
<path d="M128.9 295.8L135.4 280.1L144.5 269.2L147.5 264.5L152.9 248.8L144.5 245.2L128.9 244.9L124.4 248.8L123.0 264.5L125.7 280.1Z" fill="rgb(32,32,32)" fill-rule="evenodd"/>
<path d="M128.9 280.1L141.9 264.5L144.5 258.2L147.7 248.8L144.5 247.5L128.9 246.8L126.6 248.8L124.9 264.5Z" fill="rgb(19,19,19)" fill-rule="evenodd"/>
<path d="M128.9 272.3L135.4 264.5L128.9 248.8L126.9 264.5Z" fill="rgb(6,6,6)" fill-rule="evenodd"/>
<path d="M74.8 265.7 L76.5 251.2 L81.1 234.9 L95.6 236.7 L112.8 238.5 L126.4 234 L144.6 232.2 L162 241.2 L170.6 250 L178.6 254 L191 259.1 L200 256.8 L207 255.8 L221.5 258.5 L234.2 267.5 L240 270.3 L247.3 276.6 L253.6 283.9 L257.2 278.4 L260 260.3 L261.8 247.6 L269 231.3 L283.5 225.8 L298.1 226.7 L309 233.1 L315.3 247.6 L315.3 260.3 L313.5 280.3 L316.2 296.6 L316.3 313.3 L313.4 327.7 L301 343.5 L284.8 343.5 L269.6 330.1 L254.3 331.5 L240 342 L220.9 349.6 L207.6 353.4 L192.3 355.3 L175.2 357.6 L158 357.2 L144.5 361 L128.3 364.8 L112 361 L96.8 361 L81.5 356.3 L74.9 343.9" fill="none" stroke="rgb(0,127,102)" stroke-width="1.9" stroke-linejoin="round" stroke-linecap="butt" />
<path d="M75.4 294 L76.5 289 L81.1 276.5 L95.6 267.5 L111.7 265.2 L128.3 261.2 L140 261.3 L149.1 263 L159.8 265.9 L166.1 272.1 L174 280.6 L182 286.3 L191 292.5 L200 280.6 L207 276.6 L221.5 282.1 L227.9 291.1 L229.6 300 L227.6 307.6 L223.8 319.1 L217.1 327.7 L206.6 335.3 L186.6 336.2 L176.1 338.1 L171.3 342.9 L163.6 345 L144.5 348.6 L127.3 351.5 L112 348 L99.2 345.7 L90.1 341.2 L83.3 329.8 L77.7 316.2 L75.4 298 L75.4 294" fill="none" stroke="rgb(63,159,102)" stroke-width="1.9" stroke-linejoin="round" stroke-linecap="butt" />
<path d="M279 248.5 L285.4 241.2 L296.3 249.4 L285.4 269.4 L279 248.5" fill="none" stroke="rgb(63,159,102)" stroke-width="1.9" stroke-linejoin="round" stroke-linecap="butt" />
<path d="M285.4 288.4 L301.7 294.8 L302 300 L301 310.5 L284.8 314.3 L282.3 300 L280.8 296.6 L285.4 288.4" fill="none" stroke="rgb(63,159,102)" stroke-width="1.9" stroke-linejoin="round" stroke-linecap="butt" />
<path d="M81.1 294.7 L95.7 282.2 L113.7 282.1 L128.3 274.8 L140 274.6 L146.8 275.5 L157 279.5 L162.7 284 L166.1 290.8 L168.2 301.4 L168.2 312.3 L167.3 326.8 L160 335 L150.9 338.6 L140 341.4 L127.3 342.9 L110.1 328.6 L98.7 319.1 L89.2 309.5 L84.5 303.8 L81.1 294.7" fill="none" stroke="rgb(127,191,102)" stroke-width="1.9" stroke-linejoin="round" stroke-linecap="butt" />
<path d="M97.4 295.7 L113.7 294.8 L128.3 285.7 L140 285.7 L144.5 286.3 L150.2 289.7 L154.7 295.4 L157.5 303.2 L157.8 312.3 L154.5 321.4 L147.3 328.6 L140 331.4 L128.3 332.4 L117.8 322.9 L109.2 313.3 L100.6 300 L97.4 295.7" fill="none" stroke="rgb(191,223,102)" stroke-width="1.9" stroke-linejoin="round" stroke-linecap="butt" />
<path d="M127.9 295.2 L139 295.5 L145.5 301.4 L148.2 310.5 L146.4 316.8 L140 318.6 L129.2 319.1 L121.9 310.6 L127.9 295.2" fill="none" stroke="rgb(255,255,102)" stroke-width="1.9" stroke-linejoin="round" stroke-linecap="butt" />
</g>
<text x="273.52" y="411.6" font-size="10" fill="#000" stroke="#000" stroke-width="0.1" textLength="77.54" lengthAdjust="spacingAndGlyphs">Occurrence Rate</text>
<text x="263.51" y="420" font-size="8.5" fill="#1f8c1f" stroke="#1f8c1f" stroke-width="0.1" textLength="12.65" lengthAdjust="spacingAndGlyphs">1.0</text>
<text x="263.51" y="435.6" font-size="8.5" fill="#000" stroke="#000" stroke-width="0.1" textLength="12.65" lengthAdjust="spacingAndGlyphs">1.0</text>
<text x="281.44" y="420" font-size="8.5" fill="#1f8c1f" stroke="#1f8c1f" stroke-width="0.1" textLength="12.82" lengthAdjust="spacingAndGlyphs">0.7</text>
<text x="281.44" y="435.6" font-size="8.5" fill="#000" stroke="#000" stroke-width="0.1" textLength="12.82" lengthAdjust="spacingAndGlyphs">0.7</text>
<text x="298.82" y="420" font-size="8.5" fill="#1f8c1f" stroke="#1f8c1f" stroke-width="0.1" textLength="13.51" lengthAdjust="spacingAndGlyphs">0.3</text>
<text x="298.82" y="435.6" font-size="8.5" fill="#000" stroke="#000" stroke-width="0.1" textLength="13.51" lengthAdjust="spacingAndGlyphs">0.3</text>
<text x="316.85" y="420" font-size="8.5" fill="#1f8c1f" stroke="#1f8c1f" stroke-width="0.1" textLength="12.5" lengthAdjust="spacingAndGlyphs">0.0</text>
<text x="316.85" y="435.6" font-size="8.5" fill="#000" stroke="#000" stroke-width="0.1" textLength="12.5" lengthAdjust="spacingAndGlyphs">0.0</text>
<defs><linearGradient id="gsum" x1="0" x2="1" y1="0" y2="0"><stop offset="0" stop-color="rgb(255,255,102)"/><stop offset="0.5" stop-color="rgb(128,191,102)"/><stop offset="1" stop-color="rgb(0,128,102)"/></linearGradient><linearGradient id="ggray" x1="0" x2="1" y1="0" y2="0"><stop offset="0" stop-color="#000"/><stop offset="1" stop-color="#fff"/></linearGradient></defs>
<rect x="267" y="422" width="61.6" height="3.5" fill="url(#gsum)"/>
<rect x="267.2" y="438.2" width="61.8" height="3" fill="url(#ggray)"/>
<text x="331.23" y="421.3" font-size="6.7" fill="#1f8c1f" stroke="#1f8c1f" stroke-width="0.1" textLength="32.97" lengthAdjust="spacingAndGlyphs">Dipolariza-</text>
<text x="332" y="427.2" font-size="6.7" fill="#1f8c1f" stroke="#1f8c1f" stroke-width="0.1" textLength="29.35" lengthAdjust="spacingAndGlyphs">tion event</text>
<text x="334.98" y="439.7" font-size="10" fill="#000" stroke="#000" stroke-width="0.1" textLength="11.73" lengthAdjust="spacingAndGlyphs">All</text>
<path d="M73.7 7.34 L75.79 8.23 L77.89 9.11 L79.98 9.99 L82.07 10.85 L84.16 11.72 L86.26 12.57 L88.35 13.42 L90.44 14.26 L92.53 15.1 L94.62 15.93 L96.72 16.75 L98.81 17.56 L100.9 18.37 L103 19.17 L105.09 19.96 L107.18 20.75 L109.27 21.52 L111.37 22.29 L113.46 23.06 L115.55 23.81 L117.64 24.56 L119.74 25.3 L121.83 26.03 L123.92 26.75 L126.01 27.47 L128.11 28.18 L130.2 28.88 L132.29 29.57 L134.38 30.25 L136.48 30.93 L138.57 31.6 L140.66 32.26 L142.75 32.91 L144.85 33.55 L146.94 34.18 L149.03 34.81 L151.12 35.43 L153.22 36.04 L155.31 36.64 L157.4 37.23 L159.49 37.82 L161.59 38.39 L163.68 38.96 L165.77 39.52 L167.86 40.07 L169.96 40.61 L172.05 41.15 L174.14 41.67 L176.23 42.19 L178.33 42.7 L180.42 43.2 L182.51 43.69 L184.6 44.18 L186.7 44.66 L188.79 45.13 L190.88 45.59 L192.97 46.04 L195.06 46.48 L197.16 46.92 L199.25 47.35 L201.34 47.77 L203.44 48.19 L205.53 48.59 L207.62 48.99 L209.71 49.38 L211.81 49.77 L213.9 50.14 L215.99 50.51 L218.08 50.88 L220.18 51.23 L222.27 51.58 L224.36 51.92 L226.45 52.26 L228.55 52.58 L230.64 52.9 L232.73 53.22 L234.82 53.53 L236.92 53.83 L239.01 54.12 L241.1 54.41 L243.19 54.69 L245.29 54.97 L247.38 55.24 L249.47 55.51 L251.56 55.76 L253.66 56.02 L255.75 56.27 L257.84 56.51 L259.93 56.74 L262.03 56.98 L264.12 57.2 L266.21 57.42 L268.3 57.64 L270.4 57.85 L272.49 58.06 L274.58 58.26 L276.67 58.45 L278.77 58.64 L280.86 58.83 L282.95 59.01 L285.04 59.19 L287.13 59.37 L289.23 59.54 L291.32 59.7 L293.41 59.87 L295.5 60.02 L297.6 60.18 L299.69 60.33 L301.78 60.47 L303.88 60.62 L305.97 60.76 L308.06 60.89 L310.15 61.03 L312.25 61.16 L314.34 61.28 L316.43 61.4 L318.52 61.52 L320.62 61.64 L322.71 61.76 L324.8 61.87" fill="none" stroke="#000" stroke-width="1.8" stroke-linejoin="round" stroke-linecap="butt" />
<path d="M73.7 9.34 L75.79 10.27 L77.89 11.19 L79.98 12.1 L82.07 13.01 L84.16 13.91 L86.26 14.81 L88.35 15.7 L90.44 16.58 L92.53 17.45 L94.62 18.32 L96.72 19.18 L98.81 20.04 L100.9 20.88 L103 21.72 L105.09 22.55 L107.18 23.38 L109.27 24.2 L111.37 25 L113.46 25.8 L115.55 26.6 L117.64 27.38 L119.74 28.16 L121.83 28.92 L123.92 29.68 L126.01 30.43 L128.11 31.17 L130.2 31.91 L132.29 32.63 L134.38 33.34 L136.48 34.05 L138.57 34.75 L140.66 35.43 L142.75 36.11 L144.85 36.78 L146.94 37.44 L149.03 38.09 L151.12 38.73 L153.22 39.36 L155.31 39.98 L157.4 40.59 L159.49 41.19 L161.59 41.78 L163.68 42.36 L165.77 42.94 L167.86 43.5 L169.96 44.05 L172.05 44.6 L174.14 45.13 L176.23 45.65 L178.33 46.17 L180.42 46.67 L182.51 47.17 L184.6 47.66 L186.7 48.13 L188.79 48.6 L190.88 49.06 L192.97 49.51 L195.06 49.95 L197.16 50.38 L199.25 50.8 L201.34 51.21 L203.44 51.62 L205.53 52.01 L207.62 52.4 L209.71 52.78 L211.81 53.15 L213.9 53.51 L215.99 53.86 L218.08 54.2 L220.18 54.54 L222.27 54.87 L224.36 55.19 L226.45 55.5 L228.55 55.81 L230.64 56.1 L232.73 56.4 L234.82 56.68 L236.92 56.95 L239.01 57.22 L241.1 57.48 L243.19 57.74 L245.29 57.99 L247.38 58.23 L249.47 58.46 L251.56 58.69 L253.66 58.92 L255.75 59.13 L257.84 59.34 L259.93 59.55 L262.03 59.75 L264.12 59.94 L266.21 60.13 L268.3 60.31 L270.4 60.49 L272.49 60.67 L274.58 60.83 L276.67 61 L278.77 61.15 L280.86 61.31 L282.95 61.46 L285.04 61.6 L287.13 61.74 L289.23 61.88 L291.32 62.01 L293.41 62.14 L295.5 62.26 L297.6 62.38 L299.69 62.5 L301.78 62.61 L303.88 62.72 L305.97 62.83 L308.06 62.93 L310.15 63.03 L312.25 63.13 L314.34 63.22 L316.43 63.31 L318.52 63.4 L320.62 63.49 L322.71 63.57 L324.8 63.65" fill="none" stroke="#000" stroke-width="1.8" stroke-linejoin="round" stroke-linecap="butt" stroke-dasharray="6.2 3.4"/>
<line x1="73.7" y1="65.9" x2="324.8" y2="65.9" stroke="#000" stroke-width="1.8" stroke-dasharray="6.2 3.4"/>
<path d="M102.7 160.7 C102.95 159.5 103.75 155.48 104.2 153.5 C104.65 151.52 104.97 150.22 105.4 148.8 C105.83 147.38 106.03 146.7 106.8 145 C107.57 143.3 108.72 140.95 110 138.6 C111.28 136.25 112.87 133.23 114.5 130.9 C116.13 128.57 118.3 126.38 119.8 124.6 C121.3 122.82 121.43 122.37 123.5 120.2 C125.57 118.03 129.2 114.12 132.2 111.6 C135.2 109.08 138.4 107.12 141.5 105.1 C144.6 103.08 147.7 101.2 150.8 99.5 C153.9 97.8 157 96.28 160.1 94.9 C163.2 93.52 166.92 92.2 169.4 91.2 C171.88 90.2 171.57 89.9 175 88.9 C178.43 87.9 185.27 86.3 190 85.2 C194.73 84.1 199.42 83.13 203.4 82.3 C207.38 81.47 208.63 81.1 213.9 80.2 C219.17 79.3 226.95 78 235 76.9 C243.05 75.8 253.13 74.57 262.2 73.6 C271.27 72.63 278.97 71.9 289.4 71.1 C299.83 70.3 318.9 69.18 324.8 68.8" fill="none" stroke="#000" stroke-width="1.8" stroke-linejoin="round" />
<path d="M356.7 98 C357.88 97.63 361.17 96.45 363.8 95.8 C366.43 95.15 369.58 94.58 372.5 94.1 C375.42 93.62 377.8 93.33 381.3 92.9 C384.8 92.47 390 92.25 393.5 91.5 C397 90.75 398.5 89.5 402.3 88.4 C406.1 87.3 411.05 86.68 416.3 84.9 C421.55 83.12 428.93 79.95 433.8 77.7 C438.67 75.45 441.97 73.3 445.5 71.4 C449.03 69.5 450.85 68.68 455 66.3 C459.15 63.92 464.43 60.67 470.4 57.1 C476.37 53.53 484.68 48.63 490.8 44.9 C496.92 41.17 502 37.58 507.1 34.7 C512.2 31.82 517.32 29.98 521.4 27.6 C525.48 25.22 528.2 22.45 531.6 20.4 C535 18.35 539.38 16.48 541.8 15.3 C544.22 14.12 543.85 14.23 546.1 13.3 C548.35 12.37 552.07 10.77 555.3 9.7 C558.53 8.63 562.08 7.67 565.5 6.9 C568.92 6.13 572.38 5.52 575.8 5.1 C579.22 4.68 580.7 4.57 586 4.4 C591.3 4.23 604 4.15 607.6 4.1" fill="none" stroke="#000" stroke-width="1.3" stroke-linejoin="round" />
<path d="M356.7 98 C359.33 97.72 366.95 96.8 372.5 96.3 C378.05 95.8 384.88 95.37 390 95 C395.12 94.63 399.03 94.4 403.2 94.1 C407.37 93.8 410.38 93.7 415 93.2 C419.62 92.7 426.07 92.07 430.9 91.1 C435.73 90.13 440.82 88.47 444 87.4 C447.18 86.33 448.17 85.78 450 84.7 C451.83 83.62 453.3 82.27 455 80.9 C456.7 79.53 457.63 78.77 460.2 76.5 C462.77 74.23 467 69.85 470.4 67.3 C473.8 64.75 477.2 63.57 480.6 61.2 C484 58.83 486.38 56.15 490.8 53.1 C495.22 50.05 502 46.13 507.1 42.9 C512.2 39.67 517.32 36.25 521.4 33.7 C525.48 31.15 528.2 29.82 531.6 27.6 C535 25.38 538.7 22.28 541.8 20.4 C544.9 18.52 547.1 17.57 550.2 16.3 C553.3 15.03 556.98 13.73 560.4 12.8 C563.82 11.87 567.28 11.47 570.7 10.7 C574.12 9.93 577.5 8.97 580.9 8.2 C584.3 7.43 587.7 6.7 591.1 6.1 C594.5 5.5 598.55 4.93 601.3 4.6 C604.05 4.27 606.55 4.18 607.6 4.1" fill="none" stroke="#cc0000" stroke-width="1.3" stroke-linejoin="round" />
<path d="M356.7 237.4 C359.07 236.75 364.7 234.9 370.9 233.5 C377.1 232.1 386.5 231.07 393.9 229 C401.3 226.93 408.82 223.85 415.3 221.1 C421.78 218.35 427.02 215.9 432.8 212.5 C438.58 209.1 443.23 205.18 450 200.7 C456.77 196.22 465.62 190.27 473.4 185.6 C481.18 180.93 488.92 176.98 496.7 172.7 C504.48 168.42 514.25 162.93 520.1 159.9 C525.95 156.87 527.13 156.07 531.8 154.5 C536.47 152.93 542.27 151.83 548.1 150.5 C553.93 149.17 559.78 147.58 566.8 146.5 C573.82 145.42 583.4 144.53 590.2 144 C597 143.47 604.7 143.42 607.6 143.3" fill="none" stroke="#000" stroke-width="1.3" stroke-linejoin="round" />
<path d="M356.7 237.4 C359.07 236.88 364.7 235.35 370.9 234.3 C377.1 233.25 386.5 232.68 393.9 231.1 C401.3 229.52 408.82 227.18 415.3 224.8 C421.78 222.42 427.02 220.22 432.8 216.8 C438.58 213.38 443.23 209.7 450 204.3 C456.77 198.9 465.62 189.87 473.4 184.4 C481.18 178.93 491.25 174.82 496.7 171.5 C502.15 168.18 502.2 166.72 506.1 164.5 C510 162.28 515.82 160.02 520.1 158.2 C524.38 156.38 527.13 155 531.8 153.6 C536.47 152.2 543.05 151.22 548.1 149.8 C553.15 148.38 557.42 146.15 562.1 145.1 C566.78 144.05 568.62 143.8 576.2 143.5 C583.78 143.2 602.37 143.33 607.6 143.3" fill="none" stroke="#cc0000" stroke-width="1.3" stroke-linejoin="round" />
<path d="M356.7 381.5 C363.13 380.88 385.37 378.93 395.3 377.8 C405.23 376.67 409.88 375.87 416.3 374.7 C422.72 373.53 427.95 372.27 433.8 370.8 C439.65 369.33 445.37 367.92 451.4 365.9 C457.43 363.88 464.85 361.27 470 358.7 C475.15 356.13 475.48 355.27 482.3 350.5 C489.12 345.73 501.03 336.07 510.9 330.1 C520.77 324.13 531.97 319.13 541.5 314.7 C551.03 310.27 561.62 306.38 568.1 303.5 C574.58 300.62 576.32 299.1 580.4 297.4 C584.48 295.7 588.07 294.98 592.6 293.3 C597.13 291.62 605.1 288.3 607.6 287.3" fill="none" stroke="#000" stroke-width="1.3" stroke-linejoin="round" />
<path d="M356.7 381.5 C363.13 381.03 385.37 379.6 395.3 378.7 C405.23 377.8 409.88 377.12 416.3 376.1 C422.72 375.08 427.95 374 433.8 372.6 C439.65 371.2 445.37 369.85 451.4 367.7 C457.43 365.55 465.2 362.4 470 359.7 C474.8 357 476.8 354.9 480.2 351.5 C483.6 348.1 486.98 342.53 490.4 339.3 C493.82 336.07 496.6 334.83 500.7 332.1 C504.8 329.37 510.58 325.28 515 322.9 C519.42 320.52 523.12 319.77 527.2 317.8 C531.28 315.83 535.42 312.97 539.5 311.1 C543.58 309.23 548.3 308.03 551.7 306.6 C555.1 305.17 555.8 304.22 559.9 302.5 C564 300.78 571.87 297.83 576.3 296.3 C580.73 294.77 583.43 294.58 586.5 293.3 C589.57 292.02 592.32 289.6 594.7 288.6 C597.08 287.6 598.65 287.52 600.8 287.3 C602.95 287.08 606.47 287.3 607.6 287.3" fill="none" stroke="#cc0000" stroke-width="1.3" stroke-linejoin="round" />
<text x="400.79" y="67.3" font-size="9.6" fill="#222" stroke="#222" stroke-width="0.1" textLength="52.95" lengthAdjust="spacingAndGlyphs">Background</text>
<line x1="462.4" y1="64.8" x2="470.5" y2="64.8" stroke="#cc0000" stroke-width="2.0" />
<path d="M468.5 61.6 L474.2 64.8 L468.5 68.0 Z" fill="#cc0000"/>
<text x="485" y="67.3" font-size="9.6" fill="#cc1111" stroke="#cc1111" stroke-width="0.1" textLength="85.87" lengthAdjust="spacingAndGlyphs">Dipolarization event</text>
<line x1="73.7" y1="160.7" x2="73.7" y2="164.2" stroke="#000" stroke-width="0.9" />
<line x1="98.56" y1="160.7" x2="98.56" y2="162.7" stroke="#000" stroke-width="0.7" />
<line x1="113.1" y1="160.7" x2="113.1" y2="162.7" stroke="#000" stroke-width="0.7" />
<line x1="123.41" y1="160.7" x2="123.41" y2="162.7" stroke="#000" stroke-width="0.7" />
<line x1="131.41" y1="160.7" x2="131.41" y2="162.7" stroke="#000" stroke-width="0.7" />
<line x1="137.95" y1="160.7" x2="137.95" y2="162.7" stroke="#000" stroke-width="0.7" />
<line x1="143.48" y1="160.7" x2="143.48" y2="162.7" stroke="#000" stroke-width="0.7" />
<line x1="148.27" y1="160.7" x2="148.27" y2="162.7" stroke="#000" stroke-width="0.7" />
<line x1="152.49" y1="160.7" x2="152.49" y2="162.7" stroke="#000" stroke-width="0.7" />
<line x1="156.27" y1="160.7" x2="156.27" y2="164.2" stroke="#000" stroke-width="0.9" />
<line x1="181.13" y1="160.7" x2="181.13" y2="162.7" stroke="#000" stroke-width="0.7" />
<line x1="195.67" y1="160.7" x2="195.67" y2="162.7" stroke="#000" stroke-width="0.7" />
<line x1="205.98" y1="160.7" x2="205.98" y2="162.7" stroke="#000" stroke-width="0.7" />
<line x1="213.98" y1="160.7" x2="213.98" y2="162.7" stroke="#000" stroke-width="0.7" />
<line x1="220.52" y1="160.7" x2="220.52" y2="162.7" stroke="#000" stroke-width="0.7" />
<line x1="226.05" y1="160.7" x2="226.05" y2="162.7" stroke="#000" stroke-width="0.7" />
<line x1="230.84" y1="160.7" x2="230.84" y2="162.7" stroke="#000" stroke-width="0.7" />
<line x1="235.06" y1="160.7" x2="235.06" y2="162.7" stroke="#000" stroke-width="0.7" />
<line x1="238.84" y1="160.7" x2="238.84" y2="164.2" stroke="#000" stroke-width="0.9" />
<line x1="263.7" y1="160.7" x2="263.7" y2="162.7" stroke="#000" stroke-width="0.7" />
<line x1="278.24" y1="160.7" x2="278.24" y2="162.7" stroke="#000" stroke-width="0.7" />
<line x1="288.55" y1="160.7" x2="288.55" y2="162.7" stroke="#000" stroke-width="0.7" />
<line x1="296.55" y1="160.7" x2="296.55" y2="162.7" stroke="#000" stroke-width="0.7" />
<line x1="303.09" y1="160.7" x2="303.09" y2="162.7" stroke="#000" stroke-width="0.7" />
<line x1="308.62" y1="160.7" x2="308.62" y2="162.7" stroke="#000" stroke-width="0.7" />
<line x1="313.41" y1="160.7" x2="313.41" y2="162.7" stroke="#000" stroke-width="0.7" />
<line x1="317.63" y1="160.7" x2="317.63" y2="162.7" stroke="#000" stroke-width="0.7" />
<line x1="321.41" y1="160.7" x2="321.41" y2="164.2" stroke="#000" stroke-width="0.9" />
<line x1="73.7" y1="160.7" x2="70.2" y2="160.7" stroke="#000" stroke-width="0.9" />
<line x1="73.7" y1="132.16" x2="71.7" y2="132.16" stroke="#000" stroke-width="0.7" />
<line x1="73.7" y1="115.47" x2="71.7" y2="115.47" stroke="#000" stroke-width="0.7" />
<line x1="73.7" y1="103.62" x2="71.7" y2="103.62" stroke="#000" stroke-width="0.7" />
<line x1="73.7" y1="94.44" x2="71.7" y2="94.44" stroke="#000" stroke-width="0.7" />
<line x1="73.7" y1="86.93" x2="71.7" y2="86.93" stroke="#000" stroke-width="0.7" />
<line x1="73.7" y1="80.58" x2="71.7" y2="80.58" stroke="#000" stroke-width="0.7" />
<line x1="73.7" y1="75.09" x2="71.7" y2="75.09" stroke="#000" stroke-width="0.7" />
<line x1="73.7" y1="70.24" x2="71.7" y2="70.24" stroke="#000" stroke-width="0.7" />
<line x1="73.7" y1="65.9" x2="70.2" y2="65.9" stroke="#000" stroke-width="0.9" />
<line x1="73.7" y1="37.36" x2="71.7" y2="37.36" stroke="#000" stroke-width="0.7" />
<line x1="73.7" y1="20.67" x2="71.7" y2="20.67" stroke="#000" stroke-width="0.7" />
<line x1="73.7" y1="8.82" x2="71.7" y2="8.82" stroke="#000" stroke-width="0.7" />
<text x="38.94" y="164.9" font-size="11.9" fill="#000" stroke="#000" stroke-width="0.1" textLength="14.06" lengthAdjust="spacingAndGlyphs">10</text>
<line x1="54.7" y1="157.75" x2="59.9" y2="157.75" stroke="#000" stroke-width="0.75" />
<text x="60.67" y="160.2" font-size="8.2" fill="#000" stroke="#000" stroke-width="0.1" textLength="4.65" lengthAdjust="spacingAndGlyphs">1</text>
<text x="45.54" y="70.3" font-size="11.9" fill="#000" stroke="#000" stroke-width="0.1" textLength="14.06" lengthAdjust="spacingAndGlyphs">10</text>
<text x="60.65" y="65.6" font-size="8.2" fill="#000" stroke="#000" stroke-width="0.1" textLength="5" lengthAdjust="spacingAndGlyphs">0</text>
<text x="59.84" y="176.7" font-size="11.9" fill="#000" stroke="#000" stroke-width="0.1" textLength="14.06" lengthAdjust="spacingAndGlyphs">10</text>
<line x1="75.6" y1="169.55" x2="80.8" y2="169.55" stroke="#000" stroke-width="0.75" />
<text x="81.57" y="172" font-size="8.2" fill="#000" stroke="#000" stroke-width="0.1" textLength="4.65" lengthAdjust="spacingAndGlyphs">1</text>
<text x="145.54" y="176.7" font-size="11.9" fill="#000" stroke="#000" stroke-width="0.1" textLength="14.06" lengthAdjust="spacingAndGlyphs">10</text>
<text x="160.65" y="172" font-size="8.2" fill="#000" stroke="#000" stroke-width="0.1" textLength="5" lengthAdjust="spacingAndGlyphs">0</text>
<text x="228.14" y="176.7" font-size="11.9" fill="#000" stroke="#000" stroke-width="0.1" textLength="14.06" lengthAdjust="spacingAndGlyphs">10</text>
<text x="242.97" y="172" font-size="8.2" fill="#000" stroke="#000" stroke-width="0.1" textLength="4.65" lengthAdjust="spacingAndGlyphs">1</text>
<text x="306.84" y="176.7" font-size="11.9" fill="#000" stroke="#000" stroke-width="0.1" textLength="14.06" lengthAdjust="spacingAndGlyphs">10</text>
<text x="321.83" y="172" font-size="8.2" fill="#000" stroke="#000" stroke-width="0.1" textLength="5.24" lengthAdjust="spacingAndGlyphs">2</text>
<text x="-0.38" y="87" font-size="14.2" fill="#000" stroke="#000" stroke-width="0.1" font-weight="bold" textLength="7.3" lengthAdjust="spacingAndGlyphs">a</text>
<text transform="translate(29.4,104.69) rotate(-90)" x="0" y="0" font-size="13.2" fill="#000" stroke="#000" stroke-width="0.1" textLength="10.53" lengthAdjust="spacingAndGlyphs">P</text>
<line x1="32" y1="85.9" x2="32" y2="92.3" stroke="#000" stroke-width="1.0" />
<line x1="25.8" y1="89.1" x2="32" y2="89.1" stroke="#000" stroke-width="1.0" />
<text transform="translate(29.4,83.9) rotate(-90)" x="0" y="0" font-size="13.2" fill="#000" stroke="#000" stroke-width="0.1" textLength="6" lengthAdjust="spacingAndGlyphs">/</text>
<text transform="translate(29.4,79.6) rotate(-90)" x="0" y="0" font-size="13.2" fill="#000" stroke="#000" stroke-width="0.1" textLength="9.78" lengthAdjust="spacingAndGlyphs">P</text>
<line x1="25.2" y1="64.3" x2="34.8" y2="64.3" stroke="#000" stroke-width="1.0" />
<line x1="25.2" y1="66.3" x2="34.8" y2="66.3" stroke="#000" stroke-width="1.0" />
<text x="98.18" y="14.1" font-size="9.2" fill="#000" stroke="#000" stroke-width="0.1" textLength="5.43" lengthAdjust="spacingAndGlyphs">A</text>
<text x="103.86" y="15.9" font-size="6.9" fill="#000" stroke="#000" stroke-width="0.1" font-style="italic" textLength="6.92" lengthAdjust="spacingAndGlyphs">m</text>
<text x="100.38" y="31.2" font-size="9.2" fill="#000" stroke="#000" stroke-width="0.1" textLength="5.23" lengthAdjust="spacingAndGlyphs">A</text>
<text x="105.37" y="32.6" font-size="6.9" fill="#000" stroke="#000" stroke-width="0.1" font-style="italic" textLength="3.51" lengthAdjust="spacingAndGlyphs">c</text>
<text x="99.48" y="138.3" font-size="9.2" fill="#000" stroke="#000" stroke-width="0.1" textLength="5.33" lengthAdjust="spacingAndGlyphs">A</text>
<text x="104.41" y="139.9" font-size="6.9" fill="#000" stroke="#000" stroke-width="0.1" font-style="italic" textLength="3.2" lengthAdjust="spacingAndGlyphs">f</text>
<text x="189.29" y="190.5" font-size="14.5" fill="#000" stroke="#000" stroke-width="0.1" font-style="italic" textLength="9.3" lengthAdjust="spacingAndGlyphs">β</text>
<line x1="202.4" y1="185.4" x2="202.4" y2="195.6" stroke="#000" stroke-width="0.9" />
<line x1="204.4" y1="185.4" x2="204.4" y2="195.6" stroke="#000" stroke-width="0.9" />
<line x1="74" y1="382" x2="74" y2="385.5" stroke="#000" stroke-width="0.9" />
<line x1="86.54" y1="382" x2="86.54" y2="384" stroke="#000" stroke-width="0.7" />
<line x1="99.08" y1="382" x2="99.08" y2="384" stroke="#000" stroke-width="0.7" />
<line x1="111.62" y1="382" x2="111.62" y2="384" stroke="#000" stroke-width="0.7" />
<line x1="124.16" y1="382" x2="124.16" y2="384" stroke="#000" stroke-width="0.7" />
<line x1="136.7" y1="382" x2="136.7" y2="385.5" stroke="#000" stroke-width="0.9" />
<line x1="149.24" y1="382" x2="149.24" y2="384" stroke="#000" stroke-width="0.7" />
<line x1="161.78" y1="382" x2="161.78" y2="384" stroke="#000" stroke-width="0.7" />
<line x1="174.32" y1="382" x2="174.32" y2="384" stroke="#000" stroke-width="0.7" />
<line x1="186.86" y1="382" x2="186.86" y2="384" stroke="#000" stroke-width="0.7" />
<line x1="199.4" y1="382" x2="199.4" y2="385.5" stroke="#000" stroke-width="0.9" />
<line x1="211.94" y1="382" x2="211.94" y2="384" stroke="#000" stroke-width="0.7" />
<line x1="224.48" y1="382" x2="224.48" y2="384" stroke="#000" stroke-width="0.7" />
<line x1="237.02" y1="382" x2="237.02" y2="384" stroke="#000" stroke-width="0.7" />
<line x1="249.56" y1="382" x2="249.56" y2="384" stroke="#000" stroke-width="0.7" />
<line x1="262.1" y1="382" x2="262.1" y2="385.5" stroke="#000" stroke-width="0.9" />
<line x1="274.64" y1="382" x2="274.64" y2="384" stroke="#000" stroke-width="0.7" />
<line x1="287.18" y1="382" x2="287.18" y2="384" stroke="#000" stroke-width="0.7" />
<line x1="299.72" y1="382" x2="299.72" y2="384" stroke="#000" stroke-width="0.7" />
<line x1="312.26" y1="382" x2="312.26" y2="384" stroke="#000" stroke-width="0.7" />
<line x1="324.8" y1="382" x2="324.8" y2="385.5" stroke="#000" stroke-width="0.9" />
<line x1="74" y1="382" x2="70.5" y2="382" stroke="#000" stroke-width="0.9" />
<line x1="74" y1="375.73" x2="72" y2="375.73" stroke="#000" stroke-width="0.7" />
<line x1="74" y1="369.46" x2="72" y2="369.46" stroke="#000" stroke-width="0.7" />
<line x1="74" y1="363.2" x2="72" y2="363.2" stroke="#000" stroke-width="0.7" />
<line x1="74" y1="356.93" x2="72" y2="356.93" stroke="#000" stroke-width="0.7" />
<line x1="74" y1="350.66" x2="70.5" y2="350.66" stroke="#000" stroke-width="0.9" />
<line x1="74" y1="344.39" x2="72" y2="344.39" stroke="#000" stroke-width="0.7" />
<line x1="74" y1="338.12" x2="72" y2="338.12" stroke="#000" stroke-width="0.7" />
<line x1="74" y1="331.86" x2="72" y2="331.86" stroke="#000" stroke-width="0.7" />
<line x1="74" y1="325.59" x2="72" y2="325.59" stroke="#000" stroke-width="0.7" />
<line x1="74" y1="319.32" x2="70.5" y2="319.32" stroke="#000" stroke-width="0.9" />
<line x1="74" y1="313.05" x2="72" y2="313.05" stroke="#000" stroke-width="0.7" />
<line x1="74" y1="306.78" x2="72" y2="306.78" stroke="#000" stroke-width="0.7" />
<line x1="74" y1="300.52" x2="72" y2="300.52" stroke="#000" stroke-width="0.7" />
<line x1="74" y1="294.25" x2="72" y2="294.25" stroke="#000" stroke-width="0.7" />
<line x1="74" y1="287.98" x2="70.5" y2="287.98" stroke="#000" stroke-width="0.9" />
<line x1="74" y1="281.71" x2="72" y2="281.71" stroke="#000" stroke-width="0.7" />
<line x1="74" y1="275.44" x2="72" y2="275.44" stroke="#000" stroke-width="0.7" />
<line x1="74" y1="269.18" x2="72" y2="269.18" stroke="#000" stroke-width="0.7" />
<line x1="74" y1="262.91" x2="72" y2="262.91" stroke="#000" stroke-width="0.7" />
<line x1="74" y1="256.64" x2="70.5" y2="256.64" stroke="#000" stroke-width="0.9" />
<line x1="74" y1="250.37" x2="72" y2="250.37" stroke="#000" stroke-width="0.7" />
<line x1="74" y1="244.1" x2="72" y2="244.1" stroke="#000" stroke-width="0.7" />
<line x1="74" y1="237.84" x2="72" y2="237.84" stroke="#000" stroke-width="0.7" />
<line x1="74" y1="231.57" x2="72" y2="231.57" stroke="#000" stroke-width="0.7" />
<line x1="74" y1="225.3" x2="70.5" y2="225.3" stroke="#000" stroke-width="0.9" />
<text x="47.51" y="386.2" font-size="11.9" fill="#000" stroke="#000" stroke-width="0.1" textLength="17.59" lengthAdjust="spacingAndGlyphs">0.0</text>
<text x="47.5" y="354.86" font-size="11.9" fill="#000" stroke="#000" stroke-width="0.1" textLength="17.74" lengthAdjust="spacingAndGlyphs">0.2</text>
<text x="47.51" y="323.52" font-size="11.9" fill="#000" stroke="#000" stroke-width="0.1" textLength="17.46" lengthAdjust="spacingAndGlyphs">0.4</text>
<text x="47.5" y="292.18" font-size="11.9" fill="#000" stroke="#000" stroke-width="0.1" textLength="17.66" lengthAdjust="spacingAndGlyphs">0.6</text>
<text x="47.51" y="260.84" font-size="11.9" fill="#000" stroke="#000" stroke-width="0.1" textLength="17.64" lengthAdjust="spacingAndGlyphs">0.8</text>
<text x="47.01" y="229.5" font-size="11.9" fill="#000" stroke="#000" stroke-width="0.1" textLength="18.1" lengthAdjust="spacingAndGlyphs">1.0</text>
<text x="70.24" y="397.1" font-size="11.9" fill="#000" stroke="#000" stroke-width="0.1" textLength="14.79" lengthAdjust="spacingAndGlyphs">20</text>
<text x="129.71" y="397.1" font-size="11.9" fill="#000" stroke="#000" stroke-width="0.1" textLength="14.2" lengthAdjust="spacingAndGlyphs">40</text>
<text x="192.03" y="397.1" font-size="11.9" fill="#000" stroke="#000" stroke-width="0.1" textLength="14.58" lengthAdjust="spacingAndGlyphs">60</text>
<text x="254.84" y="397.1" font-size="11.9" fill="#000" stroke="#000" stroke-width="0.1" textLength="14.47" lengthAdjust="spacingAndGlyphs">80</text>
<text x="307.8" y="397.1" font-size="11.9" fill="#000" stroke="#000" stroke-width="0.1" textLength="22.02" lengthAdjust="spacingAndGlyphs">100</text>
<text x="-0.98" y="306.6" font-size="14.2" fill="#000" stroke="#000" stroke-width="0.1" font-weight="bold" textLength="9.09" lengthAdjust="spacingAndGlyphs">b</text>
<text x="143.57" y="413.3" font-size="12.2" fill="#000" stroke="#000" stroke-width="0.1" textLength="104.23" lengthAdjust="spacingAndGlyphs">Radial Distance [R</text>
<text x="246.41" y="416.9" font-size="10" fill="#000" stroke="#000" stroke-width="0.1" font-style="italic" textLength="3.43" lengthAdjust="spacingAndGlyphs">J</text>
<text x="251.2" y="413.3" font-size="12.2" fill="#000" stroke="#000" stroke-width="0.1" textLength="3.35" lengthAdjust="spacingAndGlyphs">]</text>
<line x1="607.6" y1="98.2" x2="611.1" y2="98.2" stroke="#000" stroke-width="0.9" />
<line x1="607.6" y1="93.5" x2="609.6" y2="93.5" stroke="#000" stroke-width="0.7" />
<line x1="607.6" y1="88.79" x2="609.6" y2="88.79" stroke="#000" stroke-width="0.7" />
<line x1="607.6" y1="84.08" x2="609.6" y2="84.08" stroke="#000" stroke-width="0.7" />
<line x1="607.6" y1="79.38" x2="609.6" y2="79.38" stroke="#000" stroke-width="0.7" />
<line x1="607.6" y1="74.67" x2="611.1" y2="74.67" stroke="#000" stroke-width="0.9" />
<line x1="607.6" y1="69.97" x2="609.6" y2="69.97" stroke="#000" stroke-width="0.7" />
<line x1="607.6" y1="65.26" x2="609.6" y2="65.26" stroke="#000" stroke-width="0.7" />
<line x1="607.6" y1="60.56" x2="609.6" y2="60.56" stroke="#000" stroke-width="0.7" />
<line x1="607.6" y1="55.85" x2="609.6" y2="55.85" stroke="#000" stroke-width="0.7" />
<line x1="607.6" y1="51.15" x2="611.1" y2="51.15" stroke="#000" stroke-width="0.9" />
<line x1="607.6" y1="46.44" x2="609.6" y2="46.44" stroke="#000" stroke-width="0.7" />
<line x1="607.6" y1="41.74" x2="609.6" y2="41.74" stroke="#000" stroke-width="0.7" />
<line x1="607.6" y1="37.03" x2="609.6" y2="37.03" stroke="#000" stroke-width="0.7" />
<line x1="607.6" y1="32.33" x2="609.6" y2="32.33" stroke="#000" stroke-width="0.7" />
<line x1="607.6" y1="27.62" x2="611.1" y2="27.62" stroke="#000" stroke-width="0.9" />
<line x1="607.6" y1="22.92" x2="609.6" y2="22.92" stroke="#000" stroke-width="0.7" />
<line x1="607.6" y1="18.21" x2="609.6" y2="18.21" stroke="#000" stroke-width="0.7" />
<line x1="607.6" y1="13.51" x2="609.6" y2="13.51" stroke="#000" stroke-width="0.7" />
<line x1="607.6" y1="8.8" x2="609.6" y2="8.8" stroke="#000" stroke-width="0.7" />
<line x1="607.6" y1="4.1" x2="611.1" y2="4.1" stroke="#000" stroke-width="0.9" />
<line x1="356.7" y1="98.2" x2="356.7" y2="101.7" stroke="#000" stroke-width="0.9" />
<line x1="394.46" y1="98.2" x2="394.46" y2="100.2" stroke="#000" stroke-width="0.7" />
<line x1="416.55" y1="98.2" x2="416.55" y2="100.2" stroke="#000" stroke-width="0.7" />
<line x1="432.23" y1="98.2" x2="432.23" y2="100.2" stroke="#000" stroke-width="0.7" />
<line x1="444.39" y1="98.2" x2="444.39" y2="100.2" stroke="#000" stroke-width="0.7" />
<line x1="454.32" y1="98.2" x2="454.32" y2="100.2" stroke="#000" stroke-width="0.7" />
<line x1="462.72" y1="98.2" x2="462.72" y2="100.2" stroke="#000" stroke-width="0.7" />
<line x1="469.99" y1="98.2" x2="469.99" y2="100.2" stroke="#000" stroke-width="0.7" />
<line x1="476.41" y1="98.2" x2="476.41" y2="100.2" stroke="#000" stroke-width="0.7" />
<line x1="482.15" y1="98.2" x2="482.15" y2="101.7" stroke="#000" stroke-width="0.9" />
<line x1="519.91" y1="98.2" x2="519.91" y2="100.2" stroke="#000" stroke-width="0.7" />
<line x1="542" y1="98.2" x2="542" y2="100.2" stroke="#000" stroke-width="0.7" />
<line x1="557.68" y1="98.2" x2="557.68" y2="100.2" stroke="#000" stroke-width="0.7" />
<line x1="569.84" y1="98.2" x2="569.84" y2="100.2" stroke="#000" stroke-width="0.7" />
<line x1="579.77" y1="98.2" x2="579.77" y2="100.2" stroke="#000" stroke-width="0.7" />
<line x1="588.17" y1="98.2" x2="588.17" y2="100.2" stroke="#000" stroke-width="0.7" />
<line x1="595.44" y1="98.2" x2="595.44" y2="100.2" stroke="#000" stroke-width="0.7" />
<line x1="601.86" y1="98.2" x2="601.86" y2="100.2" stroke="#000" stroke-width="0.7" />
<line x1="607.6" y1="98.2" x2="607.6" y2="101.7" stroke="#000" stroke-width="0.9" />
<text x="617.39" y="102.4" font-size="11.9" fill="#000" stroke="#000" stroke-width="0.1" textLength="25.53" lengthAdjust="spacingAndGlyphs">0.00</text>
<text x="617.39" y="78.88" font-size="11.9" fill="#000" stroke="#000" stroke-width="0.1" textLength="25.57" lengthAdjust="spacingAndGlyphs">0.25</text>
<text x="617.39" y="55.35" font-size="11.9" fill="#000" stroke="#000" stroke-width="0.1" textLength="25.53" lengthAdjust="spacingAndGlyphs">0.50</text>
<text x="617.39" y="31.82" font-size="11.9" fill="#000" stroke="#000" stroke-width="0.1" textLength="25.57" lengthAdjust="spacingAndGlyphs">0.75</text>
<text x="616.88" y="8.3" font-size="11.9" fill="#000" stroke="#000" stroke-width="0.1" textLength="26.04" lengthAdjust="spacingAndGlyphs">1.00</text>
<text x="353.54" y="113.9" font-size="11.9" fill="#000" stroke="#000" stroke-width="0.1" textLength="14.06" lengthAdjust="spacingAndGlyphs">10</text>
<line x1="369.3" y1="106.75" x2="374.5" y2="106.75" stroke="#000" stroke-width="0.75" />
<text x="375.43" y="109.2" font-size="8.2" fill="#000" stroke="#000" stroke-width="0.1" textLength="5.24" lengthAdjust="spacingAndGlyphs">2</text>
<text x="468.69" y="113.9" font-size="11.9" fill="#000" stroke="#000" stroke-width="0.1" textLength="14.06" lengthAdjust="spacingAndGlyphs">10</text>
<line x1="484.45" y1="106.75" x2="489.65" y2="106.75" stroke="#000" stroke-width="0.75" />
<text x="490.42" y="109.2" font-size="8.2" fill="#000" stroke="#000" stroke-width="0.1" textLength="4.65" lengthAdjust="spacingAndGlyphs">1</text>
<text x="590.44" y="113.9" font-size="11.9" fill="#000" stroke="#000" stroke-width="0.1" textLength="14.06" lengthAdjust="spacingAndGlyphs">10</text>
<text x="605.55" y="109.2" font-size="8.2" fill="#000" stroke="#000" stroke-width="0.1" textLength="5" lengthAdjust="spacingAndGlyphs">0</text>
<line x1="607.6" y1="237.4" x2="611.1" y2="237.4" stroke="#000" stroke-width="0.9" />
<line x1="607.6" y1="232.69" x2="609.6" y2="232.69" stroke="#000" stroke-width="0.7" />
<line x1="607.6" y1="227.99" x2="609.6" y2="227.99" stroke="#000" stroke-width="0.7" />
<line x1="607.6" y1="223.28" x2="609.6" y2="223.28" stroke="#000" stroke-width="0.7" />
<line x1="607.6" y1="218.58" x2="609.6" y2="218.58" stroke="#000" stroke-width="0.7" />
<line x1="607.6" y1="213.88" x2="611.1" y2="213.88" stroke="#000" stroke-width="0.9" />
<line x1="607.6" y1="209.17" x2="609.6" y2="209.17" stroke="#000" stroke-width="0.7" />
<line x1="607.6" y1="204.47" x2="609.6" y2="204.47" stroke="#000" stroke-width="0.7" />
<line x1="607.6" y1="199.76" x2="609.6" y2="199.76" stroke="#000" stroke-width="0.7" />
<line x1="607.6" y1="195.06" x2="609.6" y2="195.06" stroke="#000" stroke-width="0.7" />
<line x1="607.6" y1="190.35" x2="611.1" y2="190.35" stroke="#000" stroke-width="0.9" />
<line x1="607.6" y1="185.65" x2="609.6" y2="185.65" stroke="#000" stroke-width="0.7" />
<line x1="607.6" y1="180.94" x2="609.6" y2="180.94" stroke="#000" stroke-width="0.7" />
<line x1="607.6" y1="176.24" x2="609.6" y2="176.24" stroke="#000" stroke-width="0.7" />
<line x1="607.6" y1="171.53" x2="609.6" y2="171.53" stroke="#000" stroke-width="0.7" />
<line x1="607.6" y1="166.83" x2="611.1" y2="166.83" stroke="#000" stroke-width="0.9" />
<line x1="607.6" y1="162.12" x2="609.6" y2="162.12" stroke="#000" stroke-width="0.7" />
<line x1="607.6" y1="157.42" x2="609.6" y2="157.42" stroke="#000" stroke-width="0.7" />
<line x1="607.6" y1="152.71" x2="609.6" y2="152.71" stroke="#000" stroke-width="0.7" />
<line x1="607.6" y1="148" x2="609.6" y2="148" stroke="#000" stroke-width="0.7" />
<line x1="607.6" y1="143.3" x2="611.1" y2="143.3" stroke="#000" stroke-width="0.9" />
<line x1="356.7" y1="237.4" x2="356.7" y2="240.9" stroke="#000" stroke-width="0.9" />
<line x1="394.46" y1="237.4" x2="394.46" y2="239.4" stroke="#000" stroke-width="0.7" />
<line x1="416.55" y1="237.4" x2="416.55" y2="239.4" stroke="#000" stroke-width="0.7" />
<line x1="432.23" y1="237.4" x2="432.23" y2="239.4" stroke="#000" stroke-width="0.7" />
<line x1="444.39" y1="237.4" x2="444.39" y2="239.4" stroke="#000" stroke-width="0.7" />
<line x1="454.32" y1="237.4" x2="454.32" y2="239.4" stroke="#000" stroke-width="0.7" />
<line x1="462.72" y1="237.4" x2="462.72" y2="239.4" stroke="#000" stroke-width="0.7" />
<line x1="469.99" y1="237.4" x2="469.99" y2="239.4" stroke="#000" stroke-width="0.7" />
<line x1="476.41" y1="237.4" x2="476.41" y2="239.4" stroke="#000" stroke-width="0.7" />
<line x1="482.15" y1="237.4" x2="482.15" y2="240.9" stroke="#000" stroke-width="0.9" />
<line x1="519.91" y1="237.4" x2="519.91" y2="239.4" stroke="#000" stroke-width="0.7" />
<line x1="542" y1="237.4" x2="542" y2="239.4" stroke="#000" stroke-width="0.7" />
<line x1="557.68" y1="237.4" x2="557.68" y2="239.4" stroke="#000" stroke-width="0.7" />
<line x1="569.84" y1="237.4" x2="569.84" y2="239.4" stroke="#000" stroke-width="0.7" />
<line x1="579.77" y1="237.4" x2="579.77" y2="239.4" stroke="#000" stroke-width="0.7" />
<line x1="588.17" y1="237.4" x2="588.17" y2="239.4" stroke="#000" stroke-width="0.7" />
<line x1="595.44" y1="237.4" x2="595.44" y2="239.4" stroke="#000" stroke-width="0.7" />
<line x1="601.86" y1="237.4" x2="601.86" y2="239.4" stroke="#000" stroke-width="0.7" />
<line x1="607.6" y1="237.4" x2="607.6" y2="240.9" stroke="#000" stroke-width="0.9" />
<text x="617.39" y="241.6" font-size="11.9" fill="#000" stroke="#000" stroke-width="0.1" textLength="25.53" lengthAdjust="spacingAndGlyphs">0.00</text>
<text x="617.39" y="218.07" font-size="11.9" fill="#000" stroke="#000" stroke-width="0.1" textLength="25.57" lengthAdjust="spacingAndGlyphs">0.25</text>
<text x="617.39" y="194.55" font-size="11.9" fill="#000" stroke="#000" stroke-width="0.1" textLength="25.53" lengthAdjust="spacingAndGlyphs">0.50</text>
<text x="617.39" y="171.03" font-size="11.9" fill="#000" stroke="#000" stroke-width="0.1" textLength="25.57" lengthAdjust="spacingAndGlyphs">0.75</text>
<text x="616.88" y="147.5" font-size="11.9" fill="#000" stroke="#000" stroke-width="0.1" textLength="26.04" lengthAdjust="spacingAndGlyphs">1.00</text>
<text x="353.54" y="253.1" font-size="11.9" fill="#000" stroke="#000" stroke-width="0.1" textLength="14.06" lengthAdjust="spacingAndGlyphs">10</text>
<line x1="369.3" y1="245.95" x2="374.5" y2="245.95" stroke="#000" stroke-width="0.75" />
<text x="375.43" y="248.4" font-size="8.2" fill="#000" stroke="#000" stroke-width="0.1" textLength="5.24" lengthAdjust="spacingAndGlyphs">2</text>
<text x="468.69" y="253.1" font-size="11.9" fill="#000" stroke="#000" stroke-width="0.1" textLength="14.06" lengthAdjust="spacingAndGlyphs">10</text>
<line x1="484.45" y1="245.95" x2="489.65" y2="245.95" stroke="#000" stroke-width="0.75" />
<text x="490.42" y="248.4" font-size="8.2" fill="#000" stroke="#000" stroke-width="0.1" textLength="4.65" lengthAdjust="spacingAndGlyphs">1</text>
<text x="590.44" y="253.1" font-size="11.9" fill="#000" stroke="#000" stroke-width="0.1" textLength="14.06" lengthAdjust="spacingAndGlyphs">10</text>
<text x="605.55" y="248.4" font-size="8.2" fill="#000" stroke="#000" stroke-width="0.1" textLength="5" lengthAdjust="spacingAndGlyphs">0</text>
<line x1="607.6" y1="381.5" x2="611.1" y2="381.5" stroke="#000" stroke-width="0.9" />
<line x1="607.6" y1="376.79" x2="609.6" y2="376.79" stroke="#000" stroke-width="0.7" />
<line x1="607.6" y1="372.08" x2="609.6" y2="372.08" stroke="#000" stroke-width="0.7" />
<line x1="607.6" y1="367.37" x2="609.6" y2="367.37" stroke="#000" stroke-width="0.7" />
<line x1="607.6" y1="362.66" x2="609.6" y2="362.66" stroke="#000" stroke-width="0.7" />
<line x1="607.6" y1="357.95" x2="611.1" y2="357.95" stroke="#000" stroke-width="0.9" />
<line x1="607.6" y1="353.24" x2="609.6" y2="353.24" stroke="#000" stroke-width="0.7" />
<line x1="607.6" y1="348.53" x2="609.6" y2="348.53" stroke="#000" stroke-width="0.7" />
<line x1="607.6" y1="343.82" x2="609.6" y2="343.82" stroke="#000" stroke-width="0.7" />
<line x1="607.6" y1="339.11" x2="609.6" y2="339.11" stroke="#000" stroke-width="0.7" />
<line x1="607.6" y1="334.4" x2="611.1" y2="334.4" stroke="#000" stroke-width="0.9" />
<line x1="607.6" y1="329.69" x2="609.6" y2="329.69" stroke="#000" stroke-width="0.7" />
<line x1="607.6" y1="324.98" x2="609.6" y2="324.98" stroke="#000" stroke-width="0.7" />
<line x1="607.6" y1="320.27" x2="609.6" y2="320.27" stroke="#000" stroke-width="0.7" />
<line x1="607.6" y1="315.56" x2="609.6" y2="315.56" stroke="#000" stroke-width="0.7" />
<line x1="607.6" y1="310.85" x2="611.1" y2="310.85" stroke="#000" stroke-width="0.9" />
<line x1="607.6" y1="306.14" x2="609.6" y2="306.14" stroke="#000" stroke-width="0.7" />
<line x1="607.6" y1="301.43" x2="609.6" y2="301.43" stroke="#000" stroke-width="0.7" />
<line x1="607.6" y1="296.72" x2="609.6" y2="296.72" stroke="#000" stroke-width="0.7" />
<line x1="607.6" y1="292.01" x2="609.6" y2="292.01" stroke="#000" stroke-width="0.7" />
<line x1="607.6" y1="287.3" x2="611.1" y2="287.3" stroke="#000" stroke-width="0.9" />
<line x1="356.7" y1="381.5" x2="356.7" y2="385" stroke="#000" stroke-width="0.9" />
<line x1="394.46" y1="381.5" x2="394.46" y2="383.5" stroke="#000" stroke-width="0.7" />
<line x1="416.55" y1="381.5" x2="416.55" y2="383.5" stroke="#000" stroke-width="0.7" />
<line x1="432.23" y1="381.5" x2="432.23" y2="383.5" stroke="#000" stroke-width="0.7" />
<line x1="444.39" y1="381.5" x2="444.39" y2="383.5" stroke="#000" stroke-width="0.7" />
<line x1="454.32" y1="381.5" x2="454.32" y2="383.5" stroke="#000" stroke-width="0.7" />
<line x1="462.72" y1="381.5" x2="462.72" y2="383.5" stroke="#000" stroke-width="0.7" />
<line x1="469.99" y1="381.5" x2="469.99" y2="383.5" stroke="#000" stroke-width="0.7" />
<line x1="476.41" y1="381.5" x2="476.41" y2="383.5" stroke="#000" stroke-width="0.7" />
<line x1="482.15" y1="381.5" x2="482.15" y2="385" stroke="#000" stroke-width="0.9" />
<line x1="519.91" y1="381.5" x2="519.91" y2="383.5" stroke="#000" stroke-width="0.7" />
<line x1="542" y1="381.5" x2="542" y2="383.5" stroke="#000" stroke-width="0.7" />
<line x1="557.68" y1="381.5" x2="557.68" y2="383.5" stroke="#000" stroke-width="0.7" />
<line x1="569.84" y1="381.5" x2="569.84" y2="383.5" stroke="#000" stroke-width="0.7" />
<line x1="579.77" y1="381.5" x2="579.77" y2="383.5" stroke="#000" stroke-width="0.7" />
<line x1="588.17" y1="381.5" x2="588.17" y2="383.5" stroke="#000" stroke-width="0.7" />
<line x1="595.44" y1="381.5" x2="595.44" y2="383.5" stroke="#000" stroke-width="0.7" />
<line x1="601.86" y1="381.5" x2="601.86" y2="383.5" stroke="#000" stroke-width="0.7" />
<line x1="607.6" y1="381.5" x2="607.6" y2="385" stroke="#000" stroke-width="0.9" />
<text x="617.39" y="385.7" font-size="11.9" fill="#000" stroke="#000" stroke-width="0.1" textLength="25.53" lengthAdjust="spacingAndGlyphs">0.00</text>
<text x="617.39" y="362.15" font-size="11.9" fill="#000" stroke="#000" stroke-width="0.1" textLength="25.57" lengthAdjust="spacingAndGlyphs">0.25</text>
<text x="617.39" y="338.6" font-size="11.9" fill="#000" stroke="#000" stroke-width="0.1" textLength="25.53" lengthAdjust="spacingAndGlyphs">0.50</text>
<text x="617.39" y="315.05" font-size="11.9" fill="#000" stroke="#000" stroke-width="0.1" textLength="25.57" lengthAdjust="spacingAndGlyphs">0.75</text>
<text x="616.88" y="291.5" font-size="11.9" fill="#000" stroke="#000" stroke-width="0.1" textLength="26.04" lengthAdjust="spacingAndGlyphs">1.00</text>
<text x="353.54" y="397.2" font-size="11.9" fill="#000" stroke="#000" stroke-width="0.1" textLength="14.06" lengthAdjust="spacingAndGlyphs">10</text>
<line x1="369.3" y1="390.05" x2="374.5" y2="390.05" stroke="#000" stroke-width="0.75" />
<text x="375.56" y="392.5" font-size="8.2" fill="#000" stroke="#000" stroke-width="0.1" textLength="5.05" lengthAdjust="spacingAndGlyphs">3</text>
<text x="468.34" y="397.2" font-size="11.9" fill="#000" stroke="#000" stroke-width="0.1" textLength="14.06" lengthAdjust="spacingAndGlyphs">10</text>
<line x1="484.1" y1="390.05" x2="489.3" y2="390.05" stroke="#000" stroke-width="0.75" />
<text x="490.23" y="392.5" font-size="8.2" fill="#000" stroke="#000" stroke-width="0.1" textLength="5.24" lengthAdjust="spacingAndGlyphs">2</text>
<text x="584.24" y="397.2" font-size="11.9" fill="#000" stroke="#000" stroke-width="0.1" textLength="14.06" lengthAdjust="spacingAndGlyphs">10</text>
<line x1="600" y1="390.05" x2="605.2" y2="390.05" stroke="#000" stroke-width="0.75" />
<text x="605.97" y="392.5" font-size="8.2" fill="#000" stroke="#000" stroke-width="0.1" textLength="4.65" lengthAdjust="spacingAndGlyphs">1</text>
<text x="454.41" y="126" font-size="12.6" fill="#000" stroke="#000" stroke-width="0.1" textLength="9.65" lengthAdjust="spacingAndGlyphs">P</text>
<line x1="467.9" y1="121.4" x2="467.9" y2="129.7" stroke="#000" stroke-width="0.9" />
<line x1="469.7" y1="121.4" x2="469.7" y2="129.7" stroke="#000" stroke-width="0.9" />
<text x="477.02" y="126" font-size="12.6" fill="#000" stroke="#000" stroke-width="0.1" textLength="32.16" lengthAdjust="spacingAndGlyphs">[nPa]</text>
<text x="454.18" y="266" font-size="12.6" fill="#000" stroke="#000" stroke-width="0.1" textLength="8.27" lengthAdjust="spacingAndGlyphs">P</text>
<line x1="468.7" y1="263.4" x2="468.7" y2="268.5" stroke="#000" stroke-width="0.9" />
<line x1="465.8" y1="268.4" x2="471.7" y2="268.4" stroke="#000" stroke-width="0.9" />
<text x="477.52" y="266" font-size="12.6" fill="#000" stroke="#000" stroke-width="0.1" textLength="32.37" lengthAdjust="spacingAndGlyphs">[nPa]</text>
<text x="456.11" y="413.5" font-size="12.6" fill="#000" stroke="#000" stroke-width="0.1" textLength="8.9" lengthAdjust="spacingAndGlyphs">P</text>
<text x="464.98" y="416.4" font-size="8.6" fill="#000" stroke="#000" stroke-width="0.1" font-style="italic" textLength="6.87" lengthAdjust="spacingAndGlyphs">B</text>
<text x="476.14" y="413.5" font-size="12.6" fill="#000" stroke="#000" stroke-width="0.1" textLength="31.52" lengthAdjust="spacingAndGlyphs">[nPa]</text>
<text transform="translate(664.7,250.34) rotate(-90)" x="0" y="0" font-size="14.2" fill="#000" stroke="#000" stroke-width="0.1" textLength="144.17" lengthAdjust="spacingAndGlyphs">Cumulative Probability</text>
<text x="677.16" y="54.6" font-size="14.2" fill="#000" stroke="#000" stroke-width="0.1" font-weight="bold" textLength="7.75" lengthAdjust="spacingAndGlyphs">c</text>
<text x="676.44" y="194" font-size="14.2" fill="#000" stroke="#000" stroke-width="0.1" font-weight="bold" textLength="11.27" lengthAdjust="spacingAndGlyphs">d</text>
<text x="676.93" y="338" font-size="14.2" fill="#000" stroke="#000" stroke-width="0.1" font-weight="bold" textLength="8.06" lengthAdjust="spacingAndGlyphs">e</text>
<rect x="73.7" y="4.1" width="251.1" height="156.6" fill="none" stroke="#000" stroke-width="1.7"/>
<rect x="74" y="225.3" width="250.8" height="156.7" fill="none" stroke="#000" stroke-width="1.7"/>
<rect x="356.7" y="4.1" width="250.9" height="94.1" fill="none" stroke="#000" stroke-width="1.7"/>
<rect x="356.7" y="143.3" width="250.9" height="94.1" fill="none" stroke="#000" stroke-width="1.7"/>
<rect x="356.7" y="287.3" width="250.9" height="94.2" fill="none" stroke="#000" stroke-width="1.7"/>
<text transform="translate(30.5,373.08) rotate(-90)" x="0" y="0" font-size="12.6" fill="#000" stroke="#000" stroke-width="0.1" font-style="italic" textLength="19.9" lengthAdjust="spacingAndGlyphs">B/B</text>
<text transform="translate(32.6,352) rotate(-90)" x="0" y="0" font-size="9" fill="#000" stroke="#000" stroke-width="0.1" font-style="italic" textLength="5.38" lengthAdjust="spacingAndGlyphs">L</text>
<text transform="translate(30.5,342.98) rotate(-90)" x="0" y="0" font-size="12.5" fill="#000" stroke="#000" stroke-width="0.1" textLength="110.07" lengthAdjust="spacingAndGlyphs">(~Vertical Distance)</text>
</svg></body></html>
